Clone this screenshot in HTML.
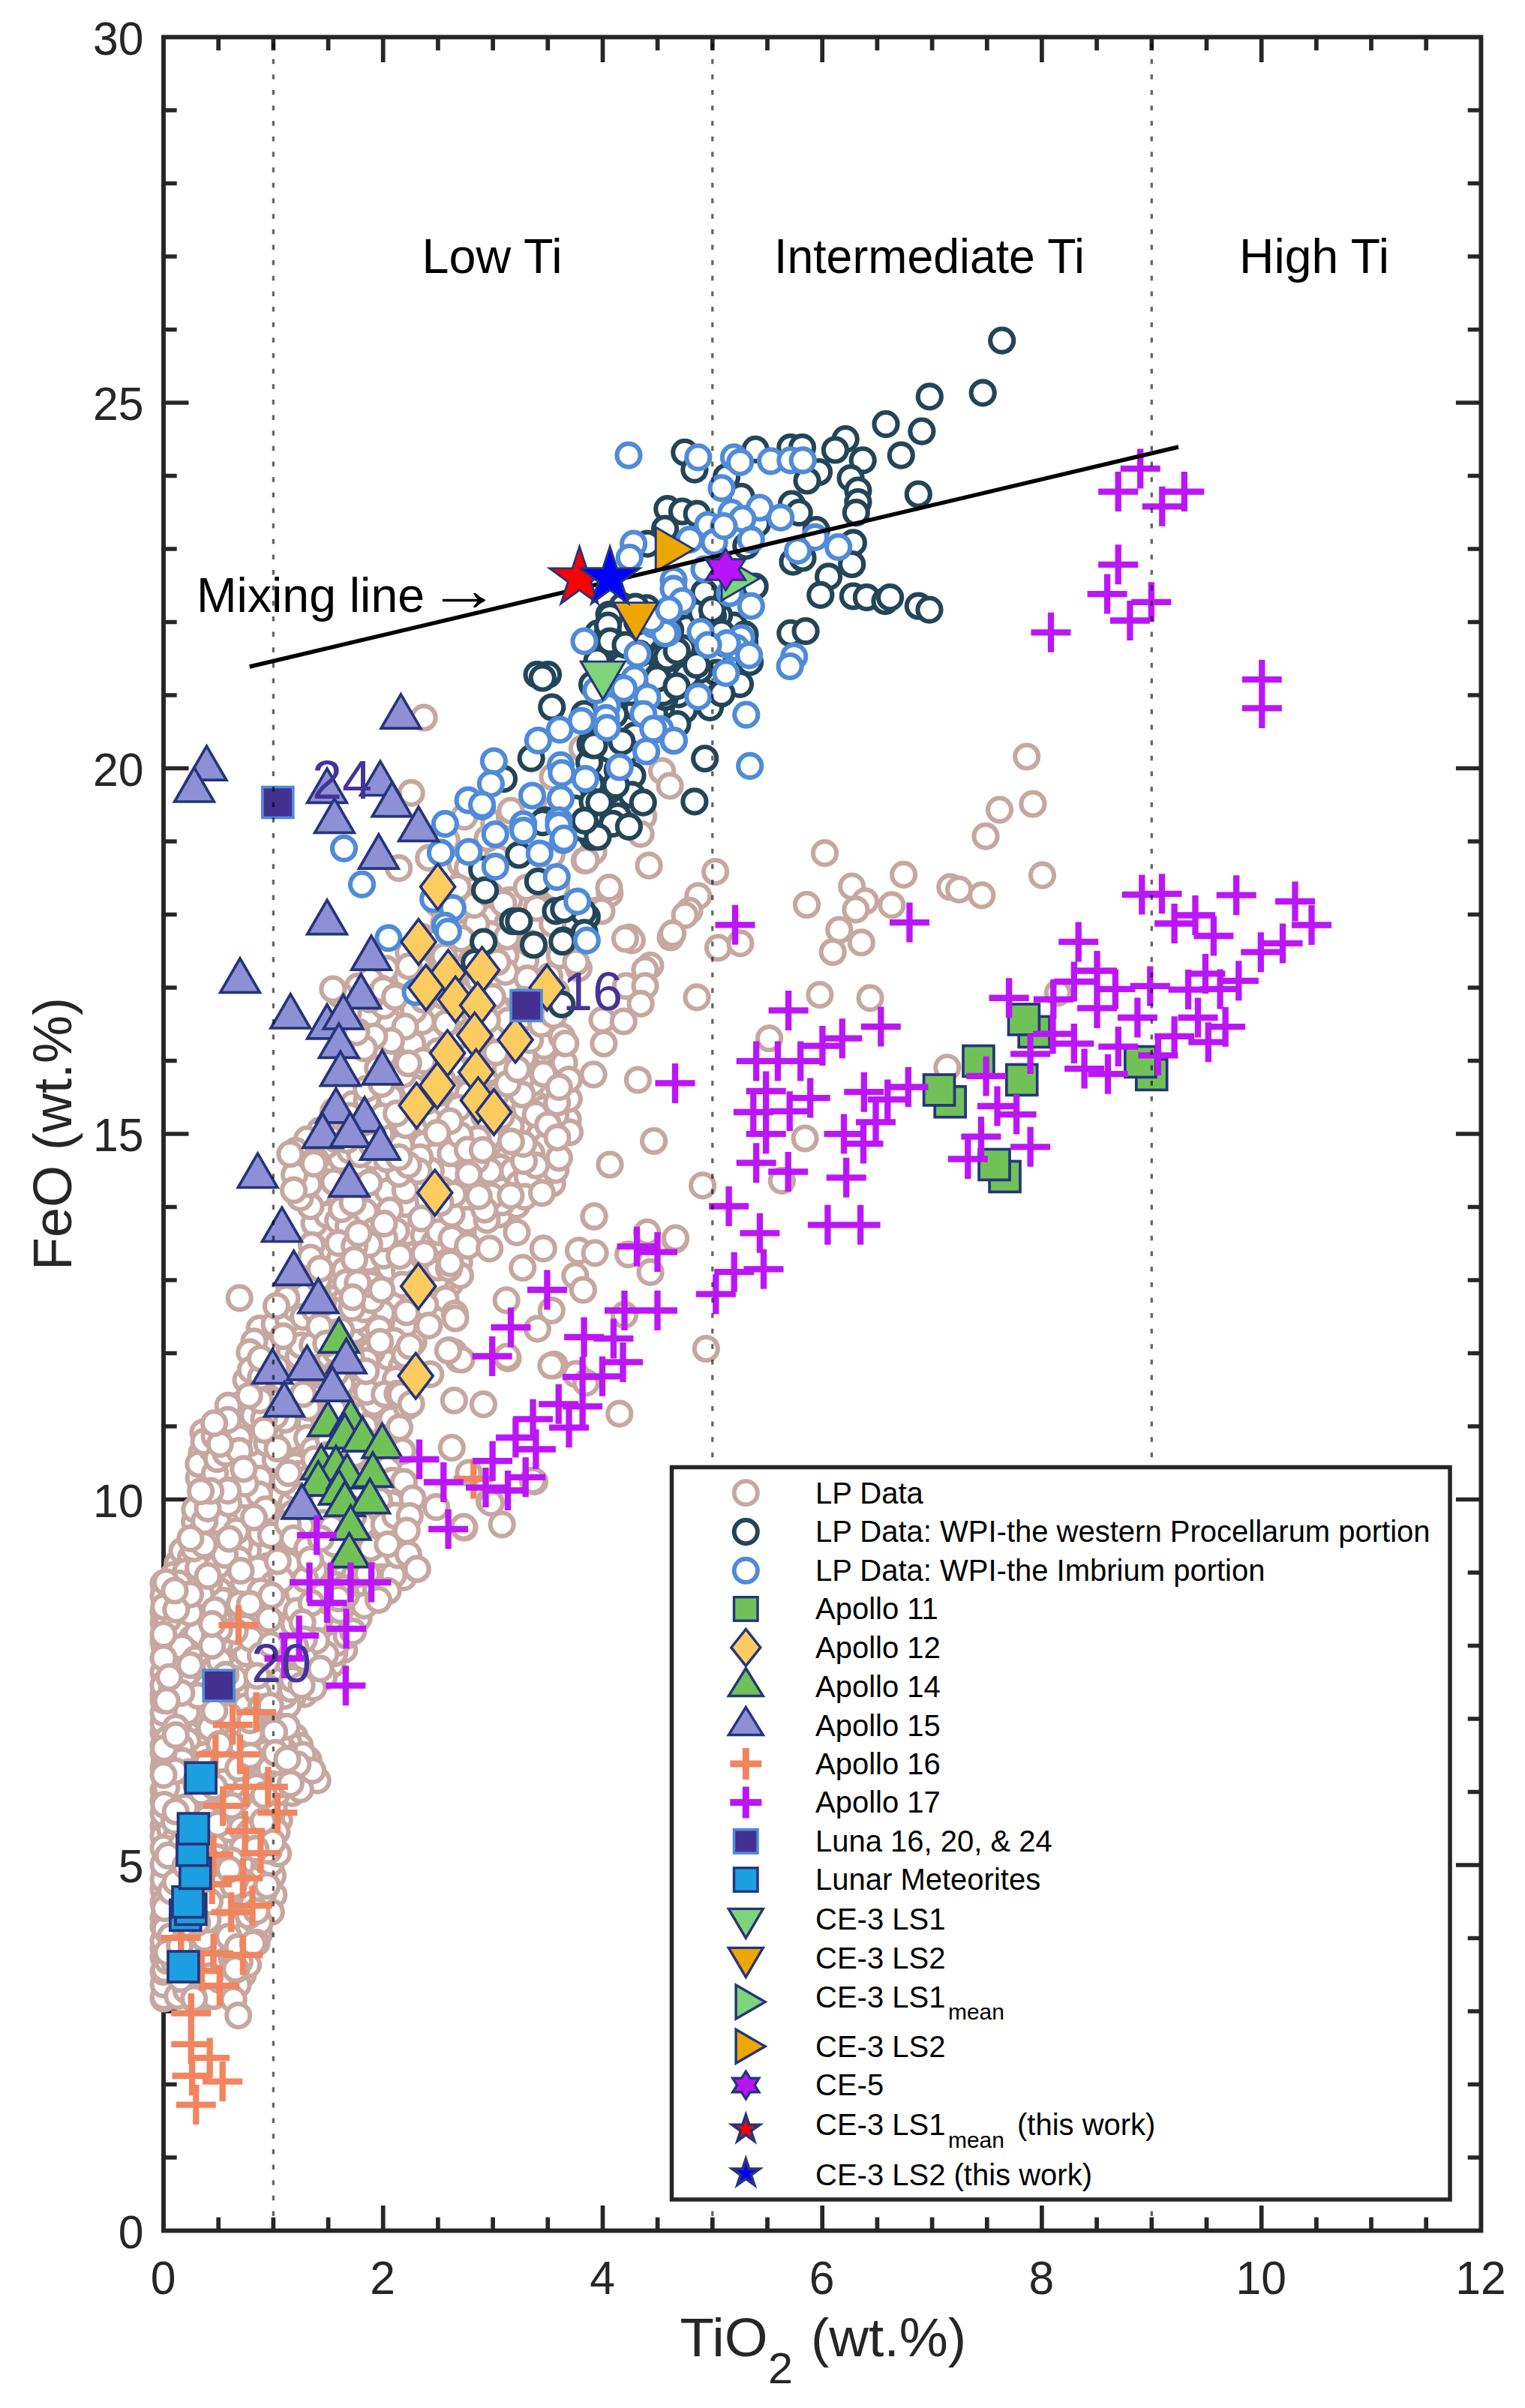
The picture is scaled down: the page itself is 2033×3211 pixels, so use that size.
<!DOCTYPE html>
<html><head><meta charset="utf-8"><title>FeO vs TiO2</title><style>html,body{margin:0;padding:0;background:#fff}svg{display:block}</style></head><body>
<svg width="2033" height="3211" viewBox="0 0 2033 3211" font-family="'Liberation Sans', sans-serif">
<rect width="2033" height="3211" fill="#fff"/>
<path d="M218.0 2877.0h17.7M1974.4 2877.0h-17.7M218.0 2779.5h17.7M1974.4 2779.5h-17.7M218.0 2682.0h17.7M1974.4 2682.0h-17.7M218.0 2584.5h17.7M1974.4 2584.5h-17.7M218.0 2487.0h33.5M1974.4 2487.0h-33.5M218.0 2389.5h17.7M1974.4 2389.5h-17.7M218.0 2292.0h17.7M1974.4 2292.0h-17.7M218.0 2194.5h17.7M1974.4 2194.5h-17.7M218.0 2097.0h17.7M1974.4 2097.0h-17.7M218.0 1999.5h33.5M1974.4 1999.5h-33.5M218.0 1902.0h17.7M1974.4 1902.0h-17.7M218.0 1804.5h17.7M1974.4 1804.5h-17.7M218.0 1707.0h17.7M1974.4 1707.0h-17.7M218.0 1609.5h17.7M1974.4 1609.5h-17.7M218.0 1512.0h33.5M1974.4 1512.0h-33.5M218.0 1414.5h17.7M1974.4 1414.5h-17.7M218.0 1317.0h17.7M1974.4 1317.0h-17.7M218.0 1219.5h17.7M1974.4 1219.5h-17.7M218.0 1122.0h17.7M1974.4 1122.0h-17.7M218.0 1024.5h33.5M1974.4 1024.5h-33.5M218.0 927.0h17.7M1974.4 927.0h-17.7M218.0 829.5h17.7M1974.4 829.5h-17.7M218.0 732.0h17.7M1974.4 732.0h-17.7M218.0 634.5h17.7M1974.4 634.5h-17.7M218.0 537.0h33.5M1974.4 537.0h-33.5M218.0 439.5h17.7M1974.4 439.5h-17.7M218.0 342.0h17.7M1974.4 342.0h-17.7M218.0 244.5h17.7M1974.4 244.5h-17.7M218.0 147.0h17.7M1974.4 147.0h-17.7M291.2 2974.5v-17.7M291.2 49.5v17.7M364.4 2974.5v-17.7M364.4 49.5v17.7M437.6 2974.5v-17.7M437.6 49.5v17.7M510.7 2974.5v-33.5M510.7 49.5v33.5M583.9 2974.5v-17.7M583.9 49.5v17.7M657.1 2974.5v-17.7M657.1 49.5v17.7M730.3 2974.5v-17.7M730.3 49.5v17.7M803.5 2974.5v-33.5M803.5 49.5v33.5M876.6 2974.5v-17.7M876.6 49.5v17.7M949.8 2974.5v-17.7M949.8 49.5v17.7M1023.0 2974.5v-17.7M1023.0 49.5v17.7M1096.2 2974.5v-33.5M1096.2 49.5v33.5M1169.4 2974.5v-17.7M1169.4 49.5v17.7M1242.6 2974.5v-17.7M1242.6 49.5v17.7M1315.8 2974.5v-17.7M1315.8 49.5v17.7M1388.9 2974.5v-33.5M1388.9 49.5v33.5M1462.1 2974.5v-17.7M1462.1 49.5v17.7M1535.3 2974.5v-17.7M1535.3 49.5v17.7M1608.5 2974.5v-17.7M1608.5 49.5v17.7M1681.7 2974.5v-33.5M1681.7 49.5v33.5M1754.9 2974.5v-17.7M1754.9 49.5v17.7M1828.0 2974.5v-17.7M1828.0 49.5v17.7M1901.2 2974.5v-17.7M1901.2 49.5v17.7" stroke="#262626" stroke-width="5.7" fill="none"/>
<rect x="218.0" y="49.5" width="1756.4" height="2925.0" fill="none" stroke="#262626" stroke-width="5.9"/>
<g font-size="63.5" fill="#262626">
<text transform="translate(191.5 2997.8) scale(0.955 1)" text-anchor="end">0</text>
<text transform="translate(191.5 2510.3) scale(0.955 1)" text-anchor="end">5</text>
<text transform="translate(191.5 2022.8) scale(0.955 1)" text-anchor="end">10</text>
<text transform="translate(191.5 1535.3) scale(0.955 1)" text-anchor="end">15</text>
<text transform="translate(191.5 1047.8) scale(0.955 1)" text-anchor="end">20</text>
<text transform="translate(191.5 560.3) scale(0.955 1)" text-anchor="end">25</text>
<text transform="translate(191.5 72.8) scale(0.955 1)" text-anchor="end">30</text>
<text transform="translate(217.5 3059.3) scale(0.955 1)" text-anchor="middle">0</text>
<text transform="translate(510.2 3059.3) scale(0.955 1)" text-anchor="middle">2</text>
<text transform="translate(803.0 3059.3) scale(0.955 1)" text-anchor="middle">4</text>
<text transform="translate(1095.7 3059.3) scale(0.955 1)" text-anchor="middle">6</text>
<text transform="translate(1388.4 3059.3) scale(0.955 1)" text-anchor="middle">8</text>
<text transform="translate(1681.2 3059.3) scale(0.955 1)" text-anchor="middle">10</text>
<text transform="translate(1973.9 3059.3) scale(0.955 1)" text-anchor="middle">12</text>
</g>
<text transform="translate(95 1512) rotate(-90)" font-size="72" fill="#262626" text-anchor="middle" textLength="364" lengthAdjust="spacingAndGlyphs">FeO (wt.%)</text>
<text x="906.5" y="3141.5" font-size="72" fill="#262626" textLength="117" lengthAdjust="spacingAndGlyphs">TiO</text><text x="1024" y="3177.8" font-size="58" fill="#262626" textLength="33" lengthAdjust="spacingAndGlyphs">2</text><text x="1081" y="3141.5" font-size="72" fill="#262626" textLength="207" lengthAdjust="spacingAndGlyphs">(wt.%)</text>
<clipPath id="ax"><rect x="218.0" y="49.5" width="1756.4" height="2925.0"/></clipPath>
<g fill="#fff" stroke="#c6a8a0" stroke-width="6.1">
<circle cx="314.2" cy="2421.0" r="15.55"/>
<circle cx="439.3" cy="1849.1" r="15.55"/>
<circle cx="345.4" cy="2292.5" r="15.55"/>
<circle cx="676.6" cy="1231.1" r="15.55"/>
<circle cx="304.5" cy="2464.7" r="15.55"/>
<circle cx="345.5" cy="2195.5" r="15.55"/>
<circle cx="440.6" cy="1557.1" r="15.55"/>
<circle cx="269.2" cy="2574.4" r="15.55"/>
<circle cx="397.3" cy="2081.7" r="15.55"/>
<circle cx="346.1" cy="1771.5" r="15.55"/>
<circle cx="218.0" cy="2387.3" r="15.55"/>
<circle cx="426.7" cy="1507.3" r="15.55"/>
<circle cx="555.9" cy="1496.2" r="15.55"/>
<circle cx="286.5" cy="2548.3" r="15.55"/>
<circle cx="477.5" cy="1315.3" r="15.55"/>
<circle cx="366.1" cy="1765.6" r="15.55"/>
<circle cx="258.9" cy="2231.3" r="15.55"/>
<circle cx="223.1" cy="2485.2" r="15.55"/>
<circle cx="224.8" cy="2224.7" r="15.55"/>
<circle cx="500.2" cy="2026.0" r="15.55"/>
<circle cx="453.8" cy="1915.9" r="15.55"/>
<circle cx="405.3" cy="2376.9" r="15.55"/>
<circle cx="227.1" cy="2650.3" r="15.55"/>
<circle cx="279.0" cy="2364.7" r="15.55"/>
<circle cx="364.4" cy="1798.1" r="15.55"/>
<circle cx="715.3" cy="1461.8" r="15.55"/>
<circle cx="572.1" cy="1385.6" r="15.55"/>
<circle cx="516.8" cy="1989.4" r="15.55"/>
<circle cx="271.3" cy="2158.9" r="15.55"/>
<circle cx="287.8" cy="2042.6" r="15.55"/>
<circle cx="684.2" cy="1344.3" r="15.55"/>
<circle cx="546.1" cy="1517.7" r="15.55"/>
<circle cx="218.0" cy="2163.7" r="15.55"/>
<circle cx="405.3" cy="1774.8" r="15.55"/>
<circle cx="600.4" cy="1711.5" r="15.55"/>
<circle cx="256.5" cy="2349.8" r="15.55"/>
<circle cx="228.8" cy="2493.4" r="15.55"/>
<circle cx="299.0" cy="2359.5" r="15.55"/>
<circle cx="337.3" cy="2220.7" r="15.55"/>
<circle cx="412.2" cy="2049.5" r="15.55"/>
<circle cx="449.8" cy="2169.5" r="15.55"/>
<circle cx="335.0" cy="1966.0" r="15.55"/>
<circle cx="219.5" cy="2512.2" r="15.55"/>
<circle cx="316.0" cy="2270.8" r="15.55"/>
<circle cx="660.0" cy="1504.8" r="15.55"/>
<circle cx="757.2" cy="1493.0" r="15.55"/>
<circle cx="341.7" cy="2487.6" r="15.55"/>
<circle cx="523.5" cy="1718.6" r="15.55"/>
<circle cx="237.0" cy="2486.8" r="15.55"/>
<circle cx="403.0" cy="1841.4" r="15.55"/>
<circle cx="256.2" cy="2588.6" r="15.55"/>
<circle cx="330.6" cy="2473.4" r="15.55"/>
<circle cx="218.0" cy="2434.9" r="15.55"/>
<circle cx="563.0" cy="1767.4" r="15.55"/>
<circle cx="531.0" cy="1658.3" r="15.55"/>
<circle cx="458.7" cy="2199.9" r="15.55"/>
<circle cx="362.2" cy="1987.9" r="15.55"/>
<circle cx="524.9" cy="1736.9" r="15.55"/>
<circle cx="275.2" cy="2201.8" r="15.55"/>
<circle cx="275.8" cy="2261.6" r="15.55"/>
<circle cx="276.2" cy="2518.0" r="15.55"/>
<circle cx="218.0" cy="2609.6" r="15.55"/>
<circle cx="329.8" cy="2368.2" r="15.55"/>
<circle cx="432.8" cy="1659.6" r="15.55"/>
<circle cx="253.4" cy="2480.2" r="15.55"/>
<circle cx="363.2" cy="2225.9" r="15.55"/>
<circle cx="579.7" cy="1426.8" r="15.55"/>
<circle cx="338.9" cy="1788.8" r="15.55"/>
<circle cx="373.9" cy="2206.6" r="15.55"/>
<circle cx="286.9" cy="2486.3" r="15.55"/>
<circle cx="449.9" cy="1724.5" r="15.55"/>
<circle cx="439.7" cy="2097.9" r="15.55"/>
<circle cx="410.2" cy="2122.3" r="15.55"/>
<circle cx="303.6" cy="2267.7" r="15.55"/>
<circle cx="313.2" cy="2366.7" r="15.55"/>
<circle cx="236.8" cy="2084.9" r="15.55"/>
<circle cx="312.9" cy="2155.4" r="15.55"/>
<circle cx="466.8" cy="1951.3" r="15.55"/>
<circle cx="364.6" cy="1910.3" r="15.55"/>
<circle cx="516.8" cy="1530.1" r="15.55"/>
<circle cx="400.3" cy="1711.0" r="15.55"/>
<circle cx="505.4" cy="1834.2" r="15.55"/>
<circle cx="224.8" cy="2308.8" r="15.55"/>
<circle cx="363.5" cy="2501.2" r="15.55"/>
<circle cx="426.6" cy="2170.5" r="15.55"/>
<circle cx="390.0" cy="2132.9" r="15.55"/>
<circle cx="290.7" cy="2497.7" r="15.55"/>
<circle cx="374.5" cy="2367.5" r="15.55"/>
<circle cx="432.0" cy="1826.3" r="15.55"/>
<circle cx="359.2" cy="2537.7" r="15.55"/>
<circle cx="502.0" cy="1615.3" r="15.55"/>
<circle cx="368.7" cy="2154.6" r="15.55"/>
<circle cx="226.2" cy="2293.9" r="15.55"/>
<circle cx="218.0" cy="2327.9" r="15.55"/>
<circle cx="591.2" cy="1549.3" r="15.55"/>
<circle cx="341.1" cy="1934.2" r="15.55"/>
<circle cx="366.2" cy="2170.6" r="15.55"/>
<circle cx="328.1" cy="1840.3" r="15.55"/>
<circle cx="290.8" cy="2233.4" r="15.55"/>
<circle cx="369.9" cy="2348.6" r="15.55"/>
<circle cx="424.8" cy="1864.0" r="15.55"/>
<circle cx="363.0" cy="1964.8" r="15.55"/>
<circle cx="607.9" cy="1437.8" r="15.55"/>
<circle cx="265.2" cy="1970.7" r="15.55"/>
<circle cx="359.3" cy="2102.7" r="15.55"/>
<circle cx="385.3" cy="1713.8" r="15.55"/>
<circle cx="252.2" cy="2623.6" r="15.55"/>
<circle cx="490.4" cy="2047.0" r="15.55"/>
<circle cx="458.8" cy="2035.3" r="15.55"/>
<circle cx="281.9" cy="2609.0" r="15.55"/>
<circle cx="415.4" cy="2196.3" r="15.55"/>
<circle cx="405.9" cy="2259.2" r="15.55"/>
<circle cx="319.6" cy="1873.4" r="15.55"/>
<circle cx="236.0" cy="2277.8" r="15.55"/>
<circle cx="593.6" cy="1309.1" r="15.55"/>
<circle cx="322.2" cy="2287.2" r="15.55"/>
<circle cx="389.8" cy="2337.9" r="15.55"/>
<circle cx="288.0" cy="2102.1" r="15.55"/>
<circle cx="607.3" cy="1553.3" r="15.55"/>
<circle cx="489.5" cy="2019.4" r="15.55"/>
<circle cx="245.8" cy="2267.1" r="15.55"/>
<circle cx="219.4" cy="2498.8" r="15.55"/>
<circle cx="361.3" cy="2065.0" r="15.55"/>
<circle cx="266.8" cy="2407.8" r="15.55"/>
<circle cx="269.0" cy="1937.9" r="15.55"/>
<circle cx="409.3" cy="1519.3" r="15.55"/>
<circle cx="517.7" cy="1809.5" r="15.55"/>
<circle cx="520.8" cy="2109.4" r="15.55"/>
<circle cx="429.6" cy="1674.6" r="15.55"/>
<circle cx="320.8" cy="2255.4" r="15.55"/>
<circle cx="383.6" cy="2144.0" r="15.55"/>
<circle cx="402.8" cy="2201.1" r="15.55"/>
<circle cx="351.2" cy="2111.0" r="15.55"/>
<circle cx="341.1" cy="2003.7" r="15.55"/>
<circle cx="269.1" cy="2665.8" r="15.55"/>
<circle cx="443.1" cy="2219.3" r="15.55"/>
<circle cx="681.5" cy="1469.2" r="15.55"/>
<circle cx="449.4" cy="1596.1" r="15.55"/>
<circle cx="668.1" cy="1580.0" r="15.55"/>
<circle cx="257.5" cy="2397.8" r="15.55"/>
<circle cx="580.1" cy="1349.1" r="15.55"/>
<circle cx="548.7" cy="1645.1" r="15.55"/>
<circle cx="242.3" cy="2627.5" r="15.55"/>
<circle cx="411.6" cy="1985.4" r="15.55"/>
<circle cx="345.7" cy="2577.9" r="15.55"/>
<circle cx="306.2" cy="1907.1" r="15.55"/>
<circle cx="551.2" cy="1789.5" r="15.55"/>
<circle cx="352.5" cy="2495.7" r="15.55"/>
<circle cx="349.8" cy="2441.1" r="15.55"/>
<circle cx="218.0" cy="2665.0" r="15.55"/>
<circle cx="512.1" cy="1407.6" r="15.55"/>
<circle cx="436.4" cy="1973.3" r="15.55"/>
<circle cx="610.2" cy="1214.2" r="15.55"/>
<circle cx="535.6" cy="1822.3" r="15.55"/>
<circle cx="659.9" cy="1535.1" r="15.55"/>
<circle cx="501.1" cy="1947.3" r="15.55"/>
<circle cx="496.4" cy="1892.0" r="15.55"/>
<circle cx="422.9" cy="2117.8" r="15.55"/>
<circle cx="322.1" cy="2337.1" r="15.55"/>
<circle cx="611.6" cy="1572.1" r="15.55"/>
<circle cx="358.3" cy="2179.7" r="15.55"/>
<circle cx="413.3" cy="1956.5" r="15.55"/>
<circle cx="482.1" cy="1789.9" r="15.55"/>
<circle cx="484.7" cy="1483.8" r="15.55"/>
<circle cx="502.7" cy="2050.8" r="15.55"/>
<circle cx="723.6" cy="1280.7" r="15.55"/>
<circle cx="736.2" cy="1578.2" r="15.55"/>
<circle cx="218.0" cy="2401.4" r="15.55"/>
<circle cx="225.3" cy="2279.6" r="15.55"/>
<circle cx="306.6" cy="2335.3" r="15.55"/>
<circle cx="562.6" cy="1249.0" r="15.55"/>
<circle cx="411.2" cy="2346.9" r="15.55"/>
<circle cx="758.3" cy="1465.3" r="15.55"/>
<circle cx="218.0" cy="2229.9" r="15.55"/>
<circle cx="231.9" cy="2631.2" r="15.55"/>
<circle cx="506.2" cy="1473.1" r="15.55"/>
<circle cx="244.8" cy="2531.9" r="15.55"/>
<circle cx="276.0" cy="2501.0" r="15.55"/>
<circle cx="371.1" cy="2188.3" r="15.55"/>
<circle cx="438.4" cy="2179.4" r="15.55"/>
<circle cx="246.3" cy="2307.1" r="15.55"/>
<circle cx="741.3" cy="1323.1" r="15.55"/>
<circle cx="301.5" cy="2415.5" r="15.55"/>
<circle cx="243.1" cy="2068.0" r="15.55"/>
<circle cx="331.7" cy="2043.0" r="15.55"/>
<circle cx="281.5" cy="2128.1" r="15.55"/>
<circle cx="426.1" cy="1645.9" r="15.55"/>
<circle cx="688.8" cy="1381.7" r="15.55"/>
<circle cx="332.7" cy="2087.2" r="15.55"/>
<circle cx="327.3" cy="1946.3" r="15.55"/>
<circle cx="325.3" cy="2547.0" r="15.55"/>
<circle cx="359.5" cy="2139.7" r="15.55"/>
<circle cx="373.7" cy="2061.9" r="15.55"/>
<circle cx="489.7" cy="2112.5" r="15.55"/>
<circle cx="494.4" cy="1696.7" r="15.55"/>
<circle cx="402.5" cy="2138.7" r="15.55"/>
<circle cx="308.8" cy="2030.0" r="15.55"/>
<circle cx="332.9" cy="1803.2" r="15.55"/>
<circle cx="225.0" cy="2533.9" r="15.55"/>
<circle cx="335.3" cy="2117.9" r="15.55"/>
<circle cx="497.5" cy="1556.2" r="15.55"/>
<circle cx="340.2" cy="2521.9" r="15.55"/>
<circle cx="529.0" cy="2040.8" r="15.55"/>
<circle cx="725.5" cy="1395.1" r="15.55"/>
<circle cx="267.9" cy="2358.1" r="15.55"/>
<circle cx="301.9" cy="2098.6" r="15.55"/>
<circle cx="569.8" cy="1714.6" r="15.55"/>
<circle cx="539.1" cy="2089.3" r="15.55"/>
<circle cx="276.2" cy="2175.6" r="15.55"/>
<circle cx="259.7" cy="2606.8" r="15.55"/>
<circle cx="241.1" cy="2475.2" r="15.55"/>
<circle cx="251.1" cy="2296.5" r="15.55"/>
<circle cx="310.7" cy="2125.6" r="15.55"/>
<circle cx="461.8" cy="1559.1" r="15.55"/>
<circle cx="393.9" cy="1534.6" r="15.55"/>
<circle cx="454.7" cy="2081.6" r="15.55"/>
<circle cx="344.0" cy="1951.8" r="15.55"/>
<circle cx="316.2" cy="2567.9" r="15.55"/>
<circle cx="429.2" cy="2077.1" r="15.55"/>
<circle cx="360.1" cy="2297.9" r="15.55"/>
<circle cx="474.1" cy="1866.8" r="15.55"/>
<circle cx="279.7" cy="2402.0" r="15.55"/>
<circle cx="448.5" cy="1497.9" r="15.55"/>
<circle cx="235.9" cy="2574.1" r="15.55"/>
<circle cx="470.3" cy="1472.3" r="15.55"/>
<circle cx="251.9" cy="2253.8" r="15.55"/>
<circle cx="300.7" cy="2523.0" r="15.55"/>
<circle cx="393.0" cy="2316.0" r="15.55"/>
<circle cx="332.5" cy="2425.1" r="15.55"/>
<circle cx="266.1" cy="2450.1" r="15.55"/>
<circle cx="253.4" cy="2139.1" r="15.55"/>
<circle cx="453.1" cy="1326.5" r="15.55"/>
<circle cx="305.0" cy="2112.1" r="15.55"/>
<circle cx="476.1" cy="2041.6" r="15.55"/>
<circle cx="326.1" cy="2586.8" r="15.55"/>
<circle cx="346.1" cy="1971.6" r="15.55"/>
<circle cx="220.9" cy="2449.1" r="15.55"/>
<circle cx="337.6" cy="1908.8" r="15.55"/>
<circle cx="346.8" cy="2407.9" r="15.55"/>
<circle cx="453.2" cy="2159.3" r="15.55"/>
<circle cx="375.4" cy="2312.2" r="15.55"/>
<circle cx="714.5" cy="1322.6" r="15.55"/>
<circle cx="488.6" cy="1498.9" r="15.55"/>
<circle cx="489.1" cy="1466.7" r="15.55"/>
<circle cx="721.7" cy="1570.8" r="15.55"/>
<circle cx="706.3" cy="1426.9" r="15.55"/>
<circle cx="265.2" cy="2487.8" r="15.55"/>
<circle cx="665.8" cy="1619.5" r="15.55"/>
<circle cx="293.8" cy="2585.2" r="15.55"/>
<circle cx="511.5" cy="2071.0" r="15.55"/>
<circle cx="326.1" cy="2526.0" r="15.55"/>
<circle cx="316.1" cy="2297.1" r="15.55"/>
<circle cx="218.0" cy="2310.7" r="15.55"/>
<circle cx="371.4" cy="1998.3" r="15.55"/>
<circle cx="389.5" cy="2391.2" r="15.55"/>
<circle cx="346.9" cy="2475.7" r="15.55"/>
<circle cx="582.2" cy="1705.1" r="15.55"/>
<circle cx="245.3" cy="2399.1" r="15.55"/>
<circle cx="238.4" cy="2294.0" r="15.55"/>
<circle cx="232.1" cy="2544.7" r="15.55"/>
<circle cx="697.8" cy="1408.7" r="15.55"/>
<circle cx="653.5" cy="1245.7" r="15.55"/>
<circle cx="327.7" cy="2014.9" r="15.55"/>
<circle cx="315.9" cy="2470.4" r="15.55"/>
<circle cx="583.6" cy="1205.0" r="15.55"/>
<circle cx="218.6" cy="2245.3" r="15.55"/>
<circle cx="264.9" cy="1952.2" r="15.55"/>
<circle cx="506.3" cy="1972.8" r="15.55"/>
<circle cx="259.6" cy="2029.2" r="15.55"/>
<circle cx="397.0" cy="1933.1" r="15.55"/>
<circle cx="287.7" cy="2651.8" r="15.55"/>
<circle cx="265.2" cy="2533.5" r="15.55"/>
<circle cx="314.2" cy="2531.4" r="15.55"/>
<circle cx="562.9" cy="1362.2" r="15.55"/>
<circle cx="299.0" cy="2146.1" r="15.55"/>
<circle cx="523.3" cy="2083.8" r="15.55"/>
<circle cx="486.3" cy="1934.4" r="15.55"/>
<circle cx="584.2" cy="1401.5" r="15.55"/>
<circle cx="289.9" cy="2008.0" r="15.55"/>
<circle cx="258.0" cy="2165.5" r="15.55"/>
<circle cx="255.3" cy="2332.9" r="15.55"/>
<circle cx="440.1" cy="1640.5" r="15.55"/>
<circle cx="513.8" cy="2045.2" r="15.55"/>
<circle cx="268.2" cy="2305.3" r="15.55"/>
<circle cx="273.8" cy="2318.5" r="15.55"/>
<circle cx="304.0" cy="2654.9" r="15.55"/>
<circle cx="377.8" cy="2159.8" r="15.55"/>
<circle cx="454.5" cy="1544.3" r="15.55"/>
<circle cx="346.0" cy="2246.0" r="15.55"/>
<circle cx="514.8" cy="1291.8" r="15.55"/>
<circle cx="327.6" cy="1993.5" r="15.55"/>
<circle cx="222.2" cy="2422.6" r="15.55"/>
<circle cx="218.4" cy="2662.4" r="15.55"/>
<circle cx="305.9" cy="2164.4" r="15.55"/>
<circle cx="419.1" cy="1631.5" r="15.55"/>
<circle cx="356.3" cy="2031.5" r="15.55"/>
<circle cx="507.7" cy="1317.5" r="15.55"/>
<circle cx="306.0" cy="2215.6" r="15.55"/>
<circle cx="272.3" cy="2597.6" r="15.55"/>
<circle cx="323.8" cy="2633.2" r="15.55"/>
<circle cx="361.3" cy="2484.7" r="15.55"/>
<circle cx="633.6" cy="1440.3" r="15.55"/>
<circle cx="488.6" cy="1451.8" r="15.55"/>
<circle cx="424.8" cy="1918.7" r="15.55"/>
<circle cx="411.4" cy="1695.9" r="15.55"/>
<circle cx="620.2" cy="1594.3" r="15.55"/>
<circle cx="400.0" cy="2327.9" r="15.55"/>
<circle cx="300.6" cy="2474.0" r="15.55"/>
<circle cx="317.0" cy="2646.8" r="15.55"/>
<circle cx="525.3" cy="1907.1" r="15.55"/>
<circle cx="351.8" cy="2336.3" r="15.55"/>
<circle cx="563.4" cy="1430.8" r="15.55"/>
<circle cx="327.2" cy="2494.3" r="15.55"/>
<circle cx="333.1" cy="2240.9" r="15.55"/>
<circle cx="332.3" cy="2600.7" r="15.55"/>
<circle cx="351.9" cy="2166.8" r="15.55"/>
<circle cx="419.1" cy="2033.9" r="15.55"/>
<circle cx="300.6" cy="2304.2" r="15.55"/>
<circle cx="478.1" cy="2055.7" r="15.55"/>
<circle cx="218.0" cy="2447.9" r="15.55"/>
<circle cx="283.3" cy="2575.0" r="15.55"/>
<circle cx="404.6" cy="2362.0" r="15.55"/>
<circle cx="430.0" cy="1954.5" r="15.55"/>
<circle cx="223.1" cy="2207.7" r="15.55"/>
<circle cx="436.9" cy="1717.4" r="15.55"/>
<circle cx="565.1" cy="1647.5" r="15.55"/>
<circle cx="259.9" cy="2012.8" r="15.55"/>
<circle cx="495.3" cy="1802.9" r="15.55"/>
<circle cx="218.0" cy="2149.6" r="15.55"/>
<circle cx="347.0" cy="2069.7" r="15.55"/>
<circle cx="261.8" cy="2323.2" r="15.55"/>
<circle cx="548.8" cy="1673.8" r="15.55"/>
<circle cx="520.5" cy="1768.0" r="15.55"/>
<circle cx="614.2" cy="1152.0" r="15.55"/>
<circle cx="395.2" cy="1582.7" r="15.55"/>
<circle cx="488.7" cy="1814.9" r="15.55"/>
<circle cx="680.0" cy="1318.2" r="15.55"/>
<circle cx="700.6" cy="1280.7" r="15.55"/>
<circle cx="333.9" cy="2575.1" r="15.55"/>
<circle cx="389.9" cy="2182.6" r="15.55"/>
<circle cx="385.0" cy="2325.0" r="15.55"/>
<circle cx="233.6" cy="2467.7" r="15.55"/>
<circle cx="637.5" cy="1409.3" r="15.55"/>
<circle cx="620.8" cy="1611.8" r="15.55"/>
<circle cx="371.2" cy="2021.8" r="15.55"/>
<circle cx="542.4" cy="1412.8" r="15.55"/>
<circle cx="567.9" cy="1582.7" r="15.55"/>
<circle cx="557.4" cy="1604.2" r="15.55"/>
<circle cx="254.4" cy="2076.9" r="15.55"/>
<circle cx="384.5" cy="1759.8" r="15.55"/>
<circle cx="330.3" cy="2067.8" r="15.55"/>
<circle cx="330.6" cy="2620.0" r="15.55"/>
<circle cx="465.9" cy="1488.0" r="15.55"/>
<circle cx="219.1" cy="2122.6" r="15.55"/>
<circle cx="496.1" cy="1961.5" r="15.55"/>
<circle cx="428.8" cy="1574.3" r="15.55"/>
<circle cx="468.3" cy="2155.6" r="15.55"/>
<circle cx="403.8" cy="2340.1" r="15.55"/>
<circle cx="237.1" cy="2230.2" r="15.55"/>
<circle cx="494.7" cy="1597.6" r="15.55"/>
<circle cx="552.7" cy="1579.0" r="15.55"/>
<circle cx="565.3" cy="1526.0" r="15.55"/>
<circle cx="263.2" cy="2244.3" r="15.55"/>
<circle cx="702.5" cy="1498.2" r="15.55"/>
<circle cx="436.5" cy="1620.4" r="15.55"/>
<circle cx="510.3" cy="1569.3" r="15.55"/>
<circle cx="597.1" cy="1632.6" r="15.55"/>
<circle cx="295.1" cy="2275.9" r="15.55"/>
<circle cx="704.1" cy="1356.3" r="15.55"/>
<circle cx="595.9" cy="1564.3" r="15.55"/>
<circle cx="271.8" cy="2289.3" r="15.55"/>
<circle cx="445.8" cy="2204.6" r="15.55"/>
<circle cx="391.8" cy="1901.8" r="15.55"/>
<circle cx="524.8" cy="1921.9" r="15.55"/>
<circle cx="387.7" cy="2118.2" r="15.55"/>
<circle cx="570.2" cy="1313.7" r="15.55"/>
<circle cx="740.8" cy="1560.2" r="15.55"/>
<circle cx="616.7" cy="1326.3" r="15.55"/>
<circle cx="664.1" cy="1381.7" r="15.55"/>
<circle cx="564.2" cy="1698.5" r="15.55"/>
<circle cx="235.4" cy="2265.4" r="15.55"/>
<circle cx="315.7" cy="2453.5" r="15.55"/>
<circle cx="521.4" cy="1878.1" r="15.55"/>
<circle cx="538.2" cy="1458.8" r="15.55"/>
<circle cx="369.3" cy="2264.4" r="15.55"/>
<circle cx="384.3" cy="2071.2" r="15.55"/>
<circle cx="739.6" cy="1429.5" r="15.55"/>
<circle cx="291.6" cy="2159.4" r="15.55"/>
<circle cx="229.6" cy="2398.9" r="15.55"/>
<circle cx="378.7" cy="2333.9" r="15.55"/>
<circle cx="579.8" cy="1492.3" r="15.55"/>
<circle cx="419.1" cy="2013.6" r="15.55"/>
<circle cx="372.3" cy="2427.1" r="15.55"/>
<circle cx="582.9" cy="1621.6" r="15.55"/>
<circle cx="490.6" cy="1993.8" r="15.55"/>
<circle cx="313.7" cy="2203.2" r="15.55"/>
<circle cx="336.7" cy="2393.8" r="15.55"/>
<circle cx="308.9" cy="2346.0" r="15.55"/>
<circle cx="587.0" cy="1275.6" r="15.55"/>
<circle cx="392.7" cy="1880.3" r="15.55"/>
<circle cx="370.7" cy="2471.7" r="15.55"/>
<circle cx="423.3" cy="2211.0" r="15.55"/>
<circle cx="334.3" cy="1826.6" r="15.55"/>
<circle cx="230.3" cy="2192.8" r="15.55"/>
<circle cx="313.0" cy="1970.6" r="15.55"/>
<circle cx="392.9" cy="2103.2" r="15.55"/>
<circle cx="308.5" cy="1956.6" r="15.55"/>
<circle cx="360.6" cy="2401.0" r="15.55"/>
<circle cx="268.5" cy="2043.0" r="15.55"/>
<circle cx="264.9" cy="2105.2" r="15.55"/>
<circle cx="412.0" cy="1810.7" r="15.55"/>
<circle cx="345.5" cy="1992.7" r="15.55"/>
<circle cx="480.1" cy="1556.4" r="15.55"/>
<circle cx="336.9" cy="2162.0" r="15.55"/>
<circle cx="290.3" cy="2028.1" r="15.55"/>
<circle cx="346.4" cy="2351.3" r="15.55"/>
<circle cx="388.7" cy="2003.8" r="15.55"/>
<circle cx="688.7" cy="1607.4" r="15.55"/>
<circle cx="273.2" cy="2650.6" r="15.55"/>
<circle cx="484.6" cy="2032.5" r="15.55"/>
<circle cx="268.7" cy="2331.1" r="15.55"/>
<circle cx="313.4" cy="2549.2" r="15.55"/>
<circle cx="345.7" cy="2372.7" r="15.55"/>
<circle cx="362.5" cy="1843.7" r="15.55"/>
<circle cx="496.9" cy="1542.4" r="15.55"/>
<circle cx="509.7" cy="1751.1" r="15.55"/>
<circle cx="493.4" cy="2132.5" r="15.55"/>
<circle cx="242.8" cy="2554.3" r="15.55"/>
<circle cx="361.6" cy="2424.9" r="15.55"/>
<circle cx="282.3" cy="1932.5" r="15.55"/>
<circle cx="417.5" cy="2236.1" r="15.55"/>
<circle cx="323.1" cy="2193.3" r="15.55"/>
<circle cx="549.9" cy="1391.9" r="15.55"/>
<circle cx="606.5" cy="1391.8" r="15.55"/>
<circle cx="364.8" cy="2526.9" r="15.55"/>
<circle cx="441.1" cy="2144.7" r="15.55"/>
<circle cx="719.3" cy="1513.0" r="15.55"/>
<circle cx="634.9" cy="1232.1" r="15.55"/>
<circle cx="677.8" cy="1542.3" r="15.55"/>
<circle cx="264.4" cy="2499.7" r="15.55"/>
<circle cx="365.1" cy="2410.6" r="15.55"/>
<circle cx="346.1" cy="2133.4" r="15.55"/>
<circle cx="425.6" cy="2137.9" r="15.55"/>
<circle cx="470.9" cy="2021.9" r="15.55"/>
<circle cx="392.6" cy="1744.7" r="15.55"/>
<circle cx="649.1" cy="1445.7" r="15.55"/>
<circle cx="516.4" cy="1359.0" r="15.55"/>
<circle cx="664.7" cy="1348.0" r="15.55"/>
<circle cx="528.8" cy="1513.6" r="15.55"/>
<circle cx="425.2" cy="1966.0" r="15.55"/>
<circle cx="226.7" cy="2439.6" r="15.55"/>
<circle cx="529.1" cy="2059.4" r="15.55"/>
<circle cx="319.5" cy="2615.8" r="15.55"/>
<circle cx="439.3" cy="1813.7" r="15.55"/>
<circle cx="740.3" cy="1077.8" r="15.55"/>
<circle cx="462.1" cy="1895.8" r="15.55"/>
<circle cx="531.4" cy="1625.3" r="15.55"/>
<circle cx="393.4" cy="2209.1" r="15.55"/>
<circle cx="383.3" cy="1934.9" r="15.55"/>
<circle cx="274.2" cy="2187.4" r="15.55"/>
<circle cx="415.8" cy="1829.0" r="15.55"/>
<circle cx="462.7" cy="1793.0" r="15.55"/>
<circle cx="233.4" cy="2373.2" r="15.55"/>
<circle cx="472.9" cy="1774.2" r="15.55"/>
<circle cx="292.2" cy="2121.1" r="15.55"/>
<circle cx="233.2" cy="2170.7" r="15.55"/>
<circle cx="514.4" cy="1705.7" r="15.55"/>
<circle cx="370.8" cy="2275.4" r="15.55"/>
<circle cx="221.8" cy="2638.4" r="15.55"/>
<circle cx="457.1" cy="1759.0" r="15.55"/>
<circle cx="520.2" cy="1462.7" r="15.55"/>
<circle cx="389.9" cy="1917.2" r="15.55"/>
<circle cx="418.9" cy="2105.0" r="15.55"/>
<circle cx="333.9" cy="2128.3" r="15.55"/>
<circle cx="420.2" cy="2147.9" r="15.55"/>
<circle cx="218.0" cy="2519.7" r="15.55"/>
<circle cx="345.7" cy="2531.9" r="15.55"/>
<circle cx="370.5" cy="2290.4" r="15.55"/>
<circle cx="375.8" cy="2248.8" r="15.55"/>
<circle cx="375.6" cy="1854.7" r="15.55"/>
<circle cx="359.6" cy="2328.2" r="15.55"/>
<circle cx="434.9" cy="1527.3" r="15.55"/>
<circle cx="297.1" cy="2134.7" r="15.55"/>
<circle cx="233.6" cy="2452.5" r="15.55"/>
<circle cx="630.6" cy="1475.8" r="15.55"/>
<circle cx="537.9" cy="2103.3" r="15.55"/>
<circle cx="411.5" cy="2155.4" r="15.55"/>
<circle cx="242.5" cy="2243.2" r="15.55"/>
<circle cx="394.1" cy="1983.8" r="15.55"/>
<circle cx="218.0" cy="2646.1" r="15.55"/>
<circle cx="256.6" cy="2635.9" r="15.55"/>
<circle cx="752.2" cy="1417.1" r="15.55"/>
<circle cx="445.2" cy="2005.3" r="15.55"/>
<circle cx="225.3" cy="2181.3" r="15.55"/>
<circle cx="471.4" cy="1848.4" r="15.55"/>
<circle cx="517.0" cy="1588.3" r="15.55"/>
<circle cx="378.9" cy="2172.6" r="15.55"/>
<circle cx="245.6" cy="2434.1" r="15.55"/>
<circle cx="540.6" cy="1605.7" r="15.55"/>
<circle cx="369.9" cy="2390.6" r="15.55"/>
<circle cx="391.8" cy="2165.9" r="15.55"/>
<circle cx="742.4" cy="1206.1" r="15.55"/>
<circle cx="490.9" cy="1766.6" r="15.55"/>
<circle cx="716.4" cy="1182.0" r="15.55"/>
<circle cx="477.1" cy="1888.3" r="15.55"/>
<circle cx="413.4" cy="1897.8" r="15.55"/>
<circle cx="431.6" cy="2236.6" r="15.55"/>
<circle cx="503.5" cy="2082.4" r="15.55"/>
<circle cx="358.1" cy="2202.5" r="15.55"/>
<circle cx="655.9" cy="1476.9" r="15.55"/>
<circle cx="292.0" cy="2447.5" r="15.55"/>
<circle cx="534.7" cy="1527.7" r="15.55"/>
<circle cx="423.2" cy="2374.2" r="15.55"/>
<circle cx="527.6" cy="1839.4" r="15.55"/>
<circle cx="260.4" cy="2427.7" r="15.55"/>
<circle cx="265.6" cy="2626.2" r="15.55"/>
<circle cx="296.0" cy="2201.4" r="15.55"/>
<circle cx="594.1" cy="1732.2" r="15.55"/>
<circle cx="442.5" cy="1700.8" r="15.55"/>
<circle cx="319.0" cy="2059.9" r="15.55"/>
<circle cx="619.6" cy="1410.2" r="15.55"/>
<circle cx="651.8" cy="1516.1" r="15.55"/>
<circle cx="285.7" cy="2060.6" r="15.55"/>
<circle cx="231.4" cy="2100.3" r="15.55"/>
<circle cx="245.3" cy="2582.6" r="15.55"/>
<circle cx="638.6" cy="1572.1" r="15.55"/>
<circle cx="583.7" cy="1690.3" r="15.55"/>
<circle cx="242.5" cy="2211.4" r="15.55"/>
<circle cx="438.8" cy="2132.7" r="15.55"/>
<circle cx="508.6" cy="1904.2" r="15.55"/>
<circle cx="358.3" cy="2088.1" r="15.55"/>
<circle cx="390.9" cy="1828.0" r="15.55"/>
<circle cx="486.4" cy="1615.5" r="15.55"/>
<circle cx="330.2" cy="2407.9" r="15.55"/>
<circle cx="335.5" cy="2102.8" r="15.55"/>
<circle cx="415.4" cy="1660.3" r="15.55"/>
<circle cx="591.1" cy="1669.1" r="15.55"/>
<circle cx="386.1" cy="1800.6" r="15.55"/>
<circle cx="491.2" cy="1354.2" r="15.55"/>
<circle cx="292.4" cy="2340.3" r="15.55"/>
<circle cx="476.3" cy="1759.5" r="15.55"/>
<circle cx="341.9" cy="2362.0" r="15.55"/>
<circle cx="491.0" cy="1678.8" r="15.55"/>
<circle cx="390.3" cy="2262.5" r="15.55"/>
<circle cx="590.6" cy="1525.8" r="15.55"/>
<circle cx="450.6" cy="1627.8" r="15.55"/>
<circle cx="276.8" cy="2448.8" r="15.55"/>
<circle cx="361.3" cy="2549.7" r="15.55"/>
<circle cx="319.5" cy="1897.5" r="15.55"/>
<circle cx="680.0" cy="1401.0" r="15.55"/>
<circle cx="579.1" cy="1656.8" r="15.55"/>
<circle cx="218.0" cy="2259.2" r="15.55"/>
<circle cx="667.3" cy="1556.7" r="15.55"/>
<circle cx="347.1" cy="2157.3" r="15.55"/>
<circle cx="271.0" cy="1910.0" r="15.55"/>
<circle cx="304.7" cy="2005.0" r="15.55"/>
<circle cx="247.8" cy="2095.8" r="15.55"/>
<circle cx="409.5" cy="1917.6" r="15.55"/>
<circle cx="507.7" cy="1512.4" r="15.55"/>
<circle cx="298.7" cy="2620.5" r="15.55"/>
<circle cx="478.0" cy="1376.2" r="15.55"/>
<circle cx="304.2" cy="1874.4" r="15.55"/>
<circle cx="431.5" cy="1905.9" r="15.55"/>
<circle cx="390.8" cy="2364.3" r="15.55"/>
<circle cx="219.5" cy="2197.3" r="15.55"/>
<circle cx="508.7" cy="2103.2" r="15.55"/>
<circle cx="423.1" cy="1719.9" r="15.55"/>
<circle cx="463.6" cy="2065.6" r="15.55"/>
<circle cx="444.5" cy="1482.3" r="15.55"/>
<circle cx="522.1" cy="1892.4" r="15.55"/>
<circle cx="681.0" cy="1501.5" r="15.55"/>
<circle cx="505.1" cy="1772.2" r="15.55"/>
<circle cx="431.1" cy="2193.0" r="15.55"/>
<circle cx="286.5" cy="1964.5" r="15.55"/>
<circle cx="585.1" cy="1643.1" r="15.55"/>
<circle cx="332.6" cy="1924.6" r="15.55"/>
<circle cx="706.6" cy="1387.1" r="15.55"/>
<circle cx="503.0" cy="2111.2" r="15.55"/>
<circle cx="303.0" cy="2426.3" r="15.55"/>
<circle cx="445.4" cy="1901.8" r="15.55"/>
<circle cx="282.1" cy="2272.1" r="15.55"/>
<circle cx="292.9" cy="2403.7" r="15.55"/>
<circle cx="218.0" cy="2357.7" r="15.55"/>
<circle cx="232.4" cy="2134.8" r="15.55"/>
<circle cx="321.4" cy="2224.0" r="15.55"/>
<circle cx="464.6" cy="1635.5" r="15.55"/>
<circle cx="368.9" cy="2442.6" r="15.55"/>
<circle cx="725.9" cy="1478.3" r="15.55"/>
<circle cx="509.4" cy="1488.8" r="15.55"/>
<circle cx="447.6" cy="1519.1" r="15.55"/>
<circle cx="493.5" cy="1306.8" r="15.55"/>
<circle cx="285.6" cy="2525.8" r="15.55"/>
<circle cx="218.7" cy="2465.2" r="15.55"/>
<circle cx="538.8" cy="1767.8" r="15.55"/>
<circle cx="453.2" cy="1678.9" r="15.55"/>
<circle cx="245.7" cy="2182.9" r="15.55"/>
<circle cx="449.3" cy="2190.9" r="15.55"/>
<circle cx="289.9" cy="2259.0" r="15.55"/>
<circle cx="289.2" cy="2308.7" r="15.55"/>
<circle cx="551.5" cy="1347.3" r="15.55"/>
<circle cx="630.6" cy="1498.2" r="15.55"/>
<circle cx="481.0" cy="2124.0" r="15.55"/>
<circle cx="507.7" cy="2013.3" r="15.55"/>
<circle cx="383.8" cy="2273.5" r="15.55"/>
<circle cx="318.7" cy="2079.8" r="15.55"/>
<circle cx="424.6" cy="1592.7" r="15.55"/>
<circle cx="383.3" cy="2197.7" r="15.55"/>
<circle cx="511.8" cy="1917.7" r="15.55"/>
<circle cx="281.3" cy="2392.5" r="15.55"/>
<circle cx="249.4" cy="2372.7" r="15.55"/>
<circle cx="617.2" cy="1645.1" r="15.55"/>
<circle cx="437.6" cy="2115.9" r="15.55"/>
<circle cx="547.5" cy="1480.1" r="15.55"/>
<circle cx="625.5" cy="1580.6" r="15.55"/>
<circle cx="235.6" cy="2339.2" r="15.55"/>
<circle cx="759.5" cy="1509.9" r="15.55"/>
<circle cx="428.7" cy="2154.4" r="15.55"/>
<circle cx="258.4" cy="2514.2" r="15.55"/>
<circle cx="726.9" cy="1527.6" r="15.55"/>
<circle cx="450.8" cy="2020.2" r="15.55"/>
<circle cx="731.5" cy="1446.6" r="15.55"/>
<circle cx="236.8" cy="2661.7" r="15.55"/>
<circle cx="485.8" cy="1947.7" r="15.55"/>
<circle cx="605.5" cy="1458.4" r="15.55"/>
<circle cx="335.3" cy="2505.2" r="15.55"/>
<circle cx="389.5" cy="2018.6" r="15.55"/>
<circle cx="540.2" cy="1369.1" r="15.55"/>
<circle cx="512.1" cy="1341.2" r="15.55"/>
<circle cx="379.0" cy="2261.4" r="15.55"/>
<circle cx="243.4" cy="2155.5" r="15.55"/>
<circle cx="406.0" cy="1727.5" r="15.55"/>
<circle cx="466.2" cy="1534.1" r="15.55"/>
<circle cx="297.6" cy="2548.6" r="15.55"/>
<circle cx="400.4" cy="2386.2" r="15.55"/>
<circle cx="542.6" cy="1303.6" r="15.55"/>
<circle cx="292.0" cy="2392.6" r="15.55"/>
<circle cx="218.0" cy="2111.6" r="15.55"/>
<circle cx="218.0" cy="2464.3" r="15.55"/>
<circle cx="273.7" cy="2076.8" r="15.55"/>
<circle cx="627.9" cy="1282.2" r="15.55"/>
<circle cx="399.3" cy="2222.6" r="15.55"/>
<circle cx="276.6" cy="2149.0" r="15.55"/>
<circle cx="358.2" cy="2467.8" r="15.55"/>
<circle cx="416.5" cy="2360.9" r="15.55"/>
<circle cx="561.7" cy="1624.8" r="15.55"/>
<circle cx="218.0" cy="2506.5" r="15.55"/>
<circle cx="340.3" cy="2416.0" r="15.55"/>
<circle cx="349.9" cy="2318.2" r="15.55"/>
<circle cx="404.8" cy="1553.4" r="15.55"/>
<circle cx="387.7" cy="2252.3" r="15.55"/>
<circle cx="322.1" cy="2125.9" r="15.55"/>
<circle cx="327.0" cy="1978.4" r="15.55"/>
<circle cx="322.3" cy="2385.9" r="15.55"/>
<circle cx="381.9" cy="1731.0" r="15.55"/>
<circle cx="468.3" cy="1810.9" r="15.55"/>
<circle cx="328.3" cy="2350.0" r="15.55"/>
<circle cx="463.8" cy="2139.7" r="15.55"/>
<circle cx="417.8" cy="1932.9" r="15.55"/>
<circle cx="359.9" cy="2358.5" r="15.55"/>
<circle cx="588.9" cy="1586.5" r="15.55"/>
<circle cx="622.9" cy="1626.6" r="15.55"/>
<circle cx="649.0" cy="1626.9" r="15.55"/>
<circle cx="253.4" cy="2545.4" r="15.55"/>
<circle cx="287.3" cy="2355.1" r="15.55"/>
<circle cx="377.1" cy="2124.9" r="15.55"/>
<circle cx="540.8" cy="1500.4" r="15.55"/>
<circle cx="519.1" cy="1690.8" r="15.55"/>
<circle cx="325.1" cy="2110.0" r="15.55"/>
<circle cx="710.1" cy="1444.2" r="15.55"/>
<circle cx="316.3" cy="2580.8" r="15.55"/>
<circle cx="457.3" cy="2103.7" r="15.55"/>
<circle cx="496.8" cy="2122.5" r="15.55"/>
<circle cx="289.5" cy="2417.3" r="15.55"/>
<circle cx="246.4" cy="2383.6" r="15.55"/>
<circle cx="470.1" cy="1922.5" r="15.55"/>
<circle cx="455.6" cy="1612.4" r="15.55"/>
<circle cx="218.0" cy="2598.0" r="15.55"/>
<circle cx="566.9" cy="1740.0" r="15.55"/>
<circle cx="218.0" cy="2297.7" r="15.55"/>
<circle cx="272.7" cy="2028.5" r="15.55"/>
<circle cx="485.2" cy="1745.8" r="15.55"/>
<circle cx="381.5" cy="1947.7" r="15.55"/>
<circle cx="735.3" cy="1139.9" r="15.55"/>
<circle cx="246.6" cy="2171.3" r="15.55"/>
<circle cx="265.5" cy="2141.0" r="15.55"/>
<circle cx="679.1" cy="1200.4" r="15.55"/>
<circle cx="328.5" cy="2150.9" r="15.55"/>
<circle cx="301.3" cy="2257.5" r="15.55"/>
<circle cx="380.4" cy="1893.1" r="15.55"/>
<circle cx="462.1" cy="2181.4" r="15.55"/>
<circle cx="257.6" cy="2269.2" r="15.55"/>
<circle cx="261.1" cy="2196.9" r="15.55"/>
<circle cx="580.1" cy="1540.9" r="15.55"/>
<circle cx="478.0" cy="2158.0" r="15.55"/>
<circle cx="404.0" cy="2018.4" r="15.55"/>
<circle cx="343.8" cy="2092.2" r="15.55"/>
<circle cx="302.4" cy="2564.8" r="15.55"/>
<circle cx="404.6" cy="1756.1" r="15.55"/>
<circle cx="669.5" cy="1603.5" r="15.55"/>
<circle cx="291.5" cy="2604.6" r="15.55"/>
<circle cx="344.7" cy="1850.0" r="15.55"/>
<circle cx="434.2" cy="2017.3" r="15.55"/>
<circle cx="275.1" cy="2378.0" r="15.55"/>
<circle cx="602.2" cy="1618.8" r="15.55"/>
<circle cx="453.6" cy="2147.4" r="15.55"/>
<circle cx="524.1" cy="2100.3" r="15.55"/>
<circle cx="296.8" cy="2245.6" r="15.55"/>
<circle cx="377.1" cy="1839.7" r="15.55"/>
<circle cx="343.8" cy="2453.0" r="15.55"/>
<circle cx="627.7" cy="1371.8" r="15.55"/>
<circle cx="304.1" cy="2454.1" r="15.55"/>
<circle cx="218.0" cy="2557.8" r="15.55"/>
<circle cx="255.2" cy="2185.6" r="15.55"/>
<circle cx="398.2" cy="1808.2" r="15.55"/>
<circle cx="319.0" cy="1917.4" r="15.55"/>
<circle cx="658.9" cy="1098.1" r="15.55"/>
<circle cx="263.0" cy="2178.7" r="15.55"/>
<circle cx="428.7" cy="2103.4" r="15.55"/>
<circle cx="495.2" cy="1733.8" r="15.55"/>
<circle cx="498.2" cy="1983.6" r="15.55"/>
<circle cx="470.6" cy="2119.6" r="15.55"/>
<circle cx="247.1" cy="2233.8" r="15.55"/>
<circle cx="602.1" cy="1651.4" r="15.55"/>
<circle cx="524.7" cy="1939.8" r="15.55"/>
<circle cx="574.3" cy="1561.3" r="15.55"/>
<circle cx="363.5" cy="2456.6" r="15.55"/>
<circle cx="218.0" cy="2629.5" r="15.55"/>
<circle cx="683.6" cy="1561.3" r="15.55"/>
<circle cx="342.6" cy="2329.1" r="15.55"/>
<circle cx="652.9" cy="1561.6" r="15.55"/>
<circle cx="219.4" cy="2626.1" r="15.55"/>
<circle cx="239.3" cy="2607.2" r="15.55"/>
<circle cx="304.7" cy="2394.5" r="15.55"/>
<circle cx="218.0" cy="2587.8" r="15.55"/>
<circle cx="245.8" cy="2520.6" r="15.55"/>
<circle cx="448.8" cy="2113.5" r="15.55"/>
<circle cx="653.4" cy="1427.4" r="15.55"/>
<circle cx="288.1" cy="2620.2" r="15.55"/>
<circle cx="328.4" cy="2205.0" r="15.55"/>
<circle cx="604.9" cy="1592.7" r="15.55"/>
<circle cx="455.7" cy="1982.1" r="15.55"/>
<circle cx="485.7" cy="2141.2" r="15.55"/>
<circle cx="401.4" cy="1794.2" r="15.55"/>
<circle cx="250.0" cy="2321.5" r="15.55"/>
<circle cx="297.9" cy="2537.0" r="15.55"/>
<circle cx="315.0" cy="2041.8" r="15.55"/>
<circle cx="342.9" cy="2147.7" r="15.55"/>
<circle cx="749.1" cy="1382.4" r="15.55"/>
<circle cx="414.1" cy="1677.0" r="15.55"/>
<circle cx="619.0" cy="1089.1" r="15.55"/>
<circle cx="362.4" cy="2379.0" r="15.55"/>
<circle cx="512.2" cy="2032.8" r="15.55"/>
<circle cx="414.0" cy="1608.7" r="15.55"/>
<circle cx="724.5" cy="1432.0" r="15.55"/>
<circle cx="609.9" cy="1294.9" r="15.55"/>
<circle cx="366.9" cy="1888.3" r="15.55"/>
<circle cx="218.0" cy="2128.2" r="15.55"/>
<circle cx="218.0" cy="2284.1" r="15.55"/>
<circle cx="448.2" cy="1950.0" r="15.55"/>
<circle cx="638.0" cy="1307.0" r="15.55"/>
<circle cx="271.2" cy="2467.7" r="15.55"/>
<circle cx="272.1" cy="2277.4" r="15.55"/>
<circle cx="375.2" cy="2046.5" r="15.55"/>
<circle cx="223.1" cy="2319.0" r="15.55"/>
<circle cx="593.2" cy="1471.3" r="15.55"/>
<circle cx="468.7" cy="1832.5" r="15.55"/>
<circle cx="673.9" cy="1274.1" r="15.55"/>
<circle cx="492.9" cy="1332.9" r="15.55"/>
<circle cx="612.3" cy="1683.1" r="15.55"/>
<circle cx="358.7" cy="2261.2" r="15.55"/>
<circle cx="364.1" cy="2112.9" r="15.55"/>
<circle cx="280.8" cy="2437.2" r="15.55"/>
<circle cx="330.4" cy="2263.5" r="15.55"/>
<circle cx="613.4" cy="1700.9" r="15.55"/>
<circle cx="278.5" cy="2111.4" r="15.55"/>
<circle cx="511.2" cy="1674.3" r="15.55"/>
<circle cx="376.1" cy="2136.9" r="15.55"/>
<circle cx="234.4" cy="2386.7" r="15.55"/>
<circle cx="261.2" cy="2282.9" r="15.55"/>
<circle cx="476.6" cy="2081.3" r="15.55"/>
<circle cx="637.0" cy="1518.6" r="15.55"/>
<circle cx="319.5" cy="2139.0" r="15.55"/>
<circle cx="308.6" cy="2609.2" r="15.55"/>
<circle cx="471.9" cy="1908.4" r="15.55"/>
<circle cx="368.5" cy="1741.5" r="15.55"/>
<circle cx="302.0" cy="2505.7" r="15.55"/>
<circle cx="304.1" cy="2598.8" r="15.55"/>
<circle cx="268.1" cy="2612.4" r="15.55"/>
<circle cx="324.2" cy="2304.6" r="15.55"/>
<circle cx="419.8" cy="1746.7" r="15.55"/>
<circle cx="494.2" cy="2064.0" r="15.55"/>
<circle cx="384.1" cy="2085.5" r="15.55"/>
<circle cx="732.4" cy="1301.8" r="15.55"/>
<circle cx="332.1" cy="2253.4" r="15.55"/>
<circle cx="261.8" cy="2379.8" r="15.55"/>
<circle cx="564.4" cy="1414.4" r="15.55"/>
<circle cx="219.7" cy="2554.6" r="15.55"/>
<circle cx="303.7" cy="1987.9" r="15.55"/>
<circle cx="615.3" cy="1251.5" r="15.55"/>
<circle cx="372.1" cy="2323.5" r="15.55"/>
<circle cx="416.8" cy="1997.9" r="15.55"/>
<circle cx="483.2" cy="1513.1" r="15.55"/>
<circle cx="540.3" cy="1587.3" r="15.55"/>
<circle cx="293.3" cy="2514.3" r="15.55"/>
<circle cx="218.0" cy="2189.0" r="15.55"/>
<circle cx="539.4" cy="1694.3" r="15.55"/>
<circle cx="221.7" cy="2383.8" r="15.55"/>
<circle cx="501.6" cy="1925.9" r="15.55"/>
<circle cx="307.5" cy="2186.2" r="15.55"/>
<circle cx="493.3" cy="1712.6" r="15.55"/>
<circle cx="371.2" cy="2034.6" r="15.55"/>
<circle cx="218.0" cy="2568.9" r="15.55"/>
<circle cx="250.6" cy="2203.6" r="15.55"/>
<circle cx="347.3" cy="2044.6" r="15.55"/>
<circle cx="346.3" cy="2563.6" r="15.55"/>
<circle cx="632.2" cy="1206.6" r="15.55"/>
<circle cx="331.4" cy="2554.6" r="15.55"/>
<circle cx="230.3" cy="2561.1" r="15.55"/>
<circle cx="428.6" cy="2127.2" r="15.55"/>
<circle cx="218.0" cy="2537.2" r="15.55"/>
<circle cx="400.1" cy="1597.2" r="15.55"/>
<circle cx="451.6" cy="1860.8" r="15.55"/>
<circle cx="285.8" cy="2462.4" r="15.55"/>
<circle cx="361.3" cy="2047.3" r="15.55"/>
<circle cx="342.1" cy="2590.7" r="15.55"/>
<circle cx="656.4" cy="1329.3" r="15.55"/>
<circle cx="267.9" cy="2126.6" r="15.55"/>
<circle cx="600.8" cy="1538.0" r="15.55"/>
<circle cx="252.1" cy="2111.0" r="15.55"/>
<circle cx="277.0" cy="2011.6" r="15.55"/>
<circle cx="448.1" cy="1802.7" r="15.55"/>
<circle cx="521.4" cy="1388.1" r="15.55"/>
<circle cx="464.1" cy="1350.4" r="15.55"/>
<circle cx="609.3" cy="1349.7" r="15.55"/>
<circle cx="283.5" cy="2589.2" r="15.55"/>
<circle cx="272.0" cy="1922.4" r="15.55"/>
<circle cx="241.0" cy="2329.4" r="15.55"/>
<circle cx="385.1" cy="2220.3" r="15.55"/>
<circle cx="273.4" cy="2339.9" r="15.55"/>
<circle cx="264.7" cy="2090.7" r="15.55"/>
<circle cx="281.0" cy="2237.1" r="15.55"/>
<circle cx="257.1" cy="2445.4" r="15.55"/>
<circle cx="270.5" cy="2224.8" r="15.55"/>
<circle cx="258.6" cy="2666.1" r="15.55"/>
<circle cx="519.5" cy="1614.0" r="15.55"/>
<circle cx="393.7" cy="1954.4" r="15.55"/>
<circle cx="290.0" cy="2088.0" r="15.55"/>
<circle cx="559.7" cy="1543.1" r="15.55"/>
<circle cx="428.3" cy="1988.6" r="15.55"/>
<circle cx="721.6" cy="1365.3" r="15.55"/>
<circle cx="306.1" cy="2439.4" r="15.55"/>
<circle cx="692.4" cy="1578.4" r="15.55"/>
<circle cx="522.5" cy="2005.5" r="15.55"/>
<circle cx="503.7" cy="1424.5" r="15.55"/>
<circle cx="740.7" cy="1486.8" r="15.55"/>
<circle cx="624.3" cy="1457.8" r="15.55"/>
<circle cx="232.0" cy="2350.9" r="15.55"/>
<circle cx="530.4" cy="2073.9" r="15.55"/>
<circle cx="634.6" cy="1547.5" r="15.55"/>
<circle cx="252.4" cy="2497.3" r="15.55"/>
<circle cx="454.8" cy="1773.9" r="15.55"/>
<circle cx="459.8" cy="2052.9" r="15.55"/>
<circle cx="258.2" cy="2064.8" r="15.55"/>
<circle cx="238.1" cy="2111.3" r="15.55"/>
<circle cx="377.5" cy="1781.9" r="15.55"/>
<circle cx="624.9" cy="1566.0" r="15.55"/>
<circle cx="330.7" cy="2320.2" r="15.55"/>
<circle cx="242.7" cy="2458.4" r="15.55"/>
<circle cx="528.1" cy="1641.6" r="15.55"/>
<circle cx="344.6" cy="2176.9" r="15.55"/>
<circle cx="321.7" cy="2485.7" r="15.55"/>
<circle cx="321.7" cy="2437.7" r="15.55"/>
<circle cx="326.4" cy="2170.0" r="15.55"/>
<circle cx="292.8" cy="2190.4" r="15.55"/>
<circle cx="337.9" cy="1887.4" r="15.55"/>
<circle cx="445.7" cy="2058.7" r="15.55"/>
<circle cx="220.2" cy="2572.4" r="15.55"/>
<circle cx="249.2" cy="2283.1" r="15.55"/>
<circle cx="313.2" cy="2238.8" r="15.55"/>
<circle cx="242.7" cy="2196.5" r="15.55"/>
<circle cx="517.1" cy="1957.2" r="15.55"/>
<circle cx="379.3" cy="1975.6" r="15.55"/>
<circle cx="516.8" cy="2059.4" r="15.55"/>
<circle cx="745.4" cy="1544.0" r="15.55"/>
<circle cx="334.2" cy="2185.2" r="15.55"/>
<circle cx="299.5" cy="2073.3" r="15.55"/>
<circle cx="411.6" cy="1579.0" r="15.55"/>
<circle cx="498.2" cy="1871.0" r="15.55"/>
<circle cx="368.9" cy="1823.8" r="15.55"/>
<circle cx="640.8" cy="1387.0" r="15.55"/>
<circle cx="272.5" cy="2584.6" r="15.55"/>
<circle cx="258.0" cy="2462.9" r="15.55"/>
<circle cx="332.0" cy="2444.2" r="15.55"/>
<circle cx="346.2" cy="2307.8" r="15.55"/>
<circle cx="498.6" cy="1641.2" r="15.55"/>
<circle cx="429.7" cy="2002.3" r="15.55"/>
<circle cx="272.0" cy="2059.8" r="15.55"/>
<circle cx="265.5" cy="2546.0" r="15.55"/>
<circle cx="621.9" cy="1428.1" r="15.55"/>
<circle cx="673.8" cy="1296.2" r="15.55"/>
<circle cx="430.5" cy="2030.7" r="15.55"/>
<circle cx="487.0" cy="1902.2" r="15.55"/>
<circle cx="451.3" cy="1657.7" r="15.55"/>
<circle cx="517.2" cy="2121.5" r="15.55"/>
<circle cx="746.2" cy="1274.0" r="15.55"/>
<circle cx="712.0" cy="1235.2" r="15.55"/>
<circle cx="249.3" cy="2605.7" r="15.55"/>
<circle cx="300.1" cy="2315.0" r="15.55"/>
<circle cx="286.1" cy="1915.2" r="15.55"/>
<circle cx="335.8" cy="2539.8" r="15.55"/>
<circle cx="275.9" cy="2248.5" r="15.55"/>
<circle cx="489.0" cy="1855.9" r="15.55"/>
<circle cx="260.5" cy="2212.3" r="15.55"/>
<circle cx="459.6" cy="1693.9" r="15.55"/>
<circle cx="317.6" cy="2398.4" r="15.55"/>
<circle cx="417.9" cy="2250.5" r="15.55"/>
<circle cx="303.9" cy="1893.3" r="15.55"/>
<circle cx="325.2" cy="2510.6" r="15.55"/>
<circle cx="302.0" cy="2635.4" r="15.55"/>
<circle cx="347.8" cy="1836.3" r="15.55"/>
<circle cx="651.3" cy="1268.7" r="15.55"/>
<circle cx="471.2" cy="1581.2" r="15.55"/>
<circle cx="277.2" cy="2101.6" r="15.55"/>
<circle cx="218.0" cy="2267.4" r="15.55"/>
<circle cx="347.5" cy="2122.0" r="15.55"/>
<circle cx="660.7" cy="1460.5" r="15.55"/>
<circle cx="354.3" cy="2012.6" r="15.55"/>
<circle cx="375.3" cy="2230.5" r="15.55"/>
<circle cx="276.8" cy="2350.4" r="15.55"/>
<circle cx="223.6" cy="2160.2" r="15.55"/>
<circle cx="284.7" cy="2662.0" r="15.55"/>
<circle cx="565.5" cy="1671.7" r="15.55"/>
<circle cx="442.4" cy="1984.6" r="15.55"/>
<circle cx="703.1" cy="1304.7" r="15.55"/>
<circle cx="645.5" cy="1487.9" r="15.55"/>
<circle cx="677.5" cy="1361.0" r="15.55"/>
<circle cx="455.5" cy="1845.2" r="15.55"/>
<circle cx="397.8" cy="2124.1" r="15.55"/>
<circle cx="364.0" cy="2239.4" r="15.55"/>
<circle cx="408.2" cy="2175.2" r="15.55"/>
<circle cx="441.5" cy="2036.7" r="15.55"/>
<circle cx="219.5" cy="2544.7" r="15.55"/>
<circle cx="592.1" cy="1328.6" r="15.55"/>
<circle cx="571.5" cy="1449.0" r="15.55"/>
<circle cx="549.9" cy="1726.1" r="15.55"/>
<circle cx="438.4" cy="1919.4" r="15.55"/>
<circle cx="352.0" cy="1892.0" r="15.55"/>
<circle cx="644.4" cy="1463.0" r="15.55"/>
<circle cx="470.1" cy="1603.7" r="15.55"/>
<circle cx="512.7" cy="1859.2" r="15.55"/>
<circle cx="355.9" cy="2215.6" r="15.55"/>
<circle cx="532.8" cy="1674.9" r="15.55"/>
<circle cx="276.9" cy="2559.8" r="15.55"/>
<circle cx="311.2" cy="2380.6" r="15.55"/>
<circle cx="414.8" cy="2221.9" r="15.55"/>
<circle cx="457.3" cy="2000.1" r="15.55"/>
<circle cx="327.7" cy="2275.3" r="15.55"/>
<circle cx="480.1" cy="1539.3" r="15.55"/>
<circle cx="402.1" cy="2034.6" r="15.55"/>
<circle cx="396.8" cy="2352.8" r="15.55"/>
<circle cx="286.5" cy="2147.0" r="15.55"/>
<circle cx="351.5" cy="2523.3" r="15.55"/>
<circle cx="424.6" cy="1705.9" r="15.55"/>
<circle cx="298.6" cy="2348.5" r="15.55"/>
<circle cx="553.9" cy="1710.6" r="15.55"/>
<circle cx="289.4" cy="1945.6" r="15.55"/>
<circle cx="525.0" cy="1787.9" r="15.55"/>
<circle cx="253.2" cy="2150.9" r="15.55"/>
<circle cx="584.7" cy="1457.5" r="15.55"/>
<circle cx="357.0" cy="2250.7" r="15.55"/>
<circle cx="605.0" cy="1422.7" r="15.55"/>
<circle cx="314.1" cy="2317.2" r="15.55"/>
<circle cx="557.9" cy="1561.5" r="15.55"/>
<circle cx="218.0" cy="2486.2" r="15.55"/>
<circle cx="298.2" cy="2376.3" r="15.55"/>
<circle cx="253.9" cy="2051.4" r="15.55"/>
<circle cx="234.6" cy="2303.5" r="15.55"/>
<circle cx="223.6" cy="2615.1" r="15.55"/>
<circle cx="539.8" cy="1806.7" r="15.55"/>
<circle cx="564.5" cy="1333.0" r="15.55"/>
<circle cx="383.6" cy="2031.8" r="15.55"/>
<circle cx="297.1" cy="2294.0" r="15.55"/>
<circle cx="399.7" cy="1965.4" r="15.55"/>
<circle cx="613.2" cy="1513.6" r="15.55"/>
<circle cx="347.5" cy="2207.7" r="15.55"/>
<circle cx="531.8" cy="1565.4" r="15.55"/>
<circle cx="221.2" cy="2361.9" r="15.55"/>
<circle cx="308.9" cy="2408.1" r="15.55"/>
<circle cx="289.5" cy="2476.5" r="15.55"/>
<circle cx="460.1" cy="1880.2" r="15.55"/>
<circle cx="703.3" cy="1569.5" r="15.55"/>
<circle cx="262.9" cy="2564.0" r="15.55"/>
<circle cx="412.3" cy="1970.9" r="15.55"/>
<circle cx="218.0" cy="2418.3" r="15.55"/>
<circle cx="227.8" cy="2521.8" r="15.55"/>
<circle cx="527.5" cy="1327.5" r="15.55"/>
<circle cx="233.3" cy="2618.2" r="15.55"/>
<circle cx="253.7" cy="2220.4" r="15.55"/>
<circle cx="758.4" cy="1439.5" r="15.55"/>
<circle cx="473.1" cy="1962.8" r="15.55"/>
<circle cx="491.9" cy="1577.2" r="15.55"/>
<circle cx="382.4" cy="2302.5" r="15.55"/>
<circle cx="512.5" cy="1651.3" r="15.55"/>
<circle cx="529.9" cy="1858.3" r="15.55"/>
<circle cx="699.4" cy="1595.9" r="15.55"/>
<circle cx="227.3" cy="2582.1" r="15.55"/>
<circle cx="284.9" cy="2292.1" r="15.55"/>
<circle cx="275.4" cy="2424.0" r="15.55"/>
<circle cx="315.6" cy="2502.8" r="15.55"/>
<circle cx="515.5" cy="1545.6" r="15.55"/>
<circle cx="421.4" cy="2161.2" r="15.55"/>
<circle cx="234.2" cy="2509.7" r="15.55"/>
<circle cx="592.0" cy="1230.3" r="15.55"/>
<circle cx="416.7" cy="1793.8" r="15.55"/>
<circle cx="632.3" cy="1349.0" r="15.55"/>
<circle cx="738.1" cy="1353.7" r="15.55"/>
<circle cx="279.5" cy="2535.8" r="15.55"/>
<circle cx="528.5" cy="1484.8" r="15.55"/>
<circle cx="521.5" cy="1433.5" r="15.55"/>
<circle cx="567.6" cy="1469.2" r="15.55"/>
<circle cx="492.4" cy="1659.3" r="15.55"/>
<circle cx="305.1" cy="2287.9" r="15.55"/>
<circle cx="276.3" cy="2480.7" r="15.55"/>
<circle cx="595.3" cy="1120.6" r="15.55"/>
<circle cx="219.3" cy="2349.2" r="15.55"/>
<circle cx="365.5" cy="2309.7" r="15.55"/>
<circle cx="512.0" cy="1631.6" r="15.55"/>
<circle cx="461.2" cy="1710.4" r="15.55"/>
<circle cx="300.7" cy="1937.5" r="15.55"/>
<circle cx="390.9" cy="2051.3" r="15.55"/>
<circle cx="698.1" cy="1107.5" r="15.55"/>
<circle cx="242.9" cy="2348.2" r="15.55"/>
<circle cx="409.7" cy="2064.5" r="15.55"/>
<circle cx="317.8" cy="2357.6" r="15.55"/>
<circle cx="544.8" cy="1270.0" r="15.55"/>
<circle cx="419.4" cy="2093.8" r="15.55"/>
<circle cx="283.1" cy="2211.2" r="15.55"/>
<circle cx="699.9" cy="1478.1" r="15.55"/>
<circle cx="356.0" cy="1924.9" r="15.55"/>
<circle cx="469.3" cy="2005.8" r="15.55"/>
<circle cx="470.5" cy="2175.7" r="15.55"/>
<circle cx="445.0" cy="1576.0" r="15.55"/>
<circle cx="390.1" cy="2239.4" r="15.55"/>
<circle cx="433.8" cy="2205.6" r="15.55"/>
<circle cx="333.2" cy="2138.9" r="15.55"/>
<circle cx="356.0" cy="2514.4" r="15.55"/>
<circle cx="319.0" cy="1934.7" r="15.55"/>
<circle cx="245.3" cy="2566.9" r="15.55"/>
<circle cx="674.3" cy="1426.5" r="15.55"/>
<circle cx="523.2" cy="1974.4" r="15.55"/>
<circle cx="504.6" cy="2133.3" r="15.55"/>
<circle cx="343.8" cy="2257.7" r="15.55"/>
<circle cx="257.5" cy="2648.2" r="15.55"/>
<circle cx="246.8" cy="2409.8" r="15.55"/>
<circle cx="708.5" cy="1537.6" r="15.55"/>
<circle cx="370.7" cy="1869.0" r="15.55"/>
<circle cx="218.0" cy="2247.4" r="15.55"/>
<circle cx="454.9" cy="1738.4" r="15.55"/>
<circle cx="611.4" cy="1477.3" r="15.55"/>
<circle cx="655.1" cy="1595.0" r="15.55"/>
<circle cx="406.8" cy="2106.1" r="15.55"/>
<circle cx="541.8" cy="1749.9" r="15.55"/>
<circle cx="266.8" cy="2438.4" r="15.55"/>
<circle cx="218.8" cy="2142.7" r="15.55"/>
<circle cx="341.6" cy="2382.5" r="15.55"/>
<circle cx="395.7" cy="2148.1" r="15.55"/>
<circle cx="286.9" cy="2223.1" r="15.55"/>
<circle cx="222.9" cy="2603.3" r="15.55"/>
<circle cx="599.7" cy="1495.1" r="15.55"/>
<circle cx="280.7" cy="1988.2" r="15.55"/>
<circle cx="293.1" cy="2214.8" r="15.55"/>
<circle cx="461.6" cy="2127.3" r="15.55"/>
<circle cx="473.0" cy="2100.4" r="15.55"/>
<circle cx="232.3" cy="2428.5" r="15.55"/>
<circle cx="413.6" cy="2079.8" r="15.55"/>
<circle cx="346.8" cy="1867.4" r="15.55"/>
<circle cx="342.1" cy="2548.4" r="15.55"/>
<circle cx="300.7" cy="2233.4" r="15.55"/>
<circle cx="536.3" cy="1713.2" r="15.55"/>
<circle cx="391.3" cy="1850.1" r="15.55"/>
<circle cx="375.6" cy="2379.7" r="15.55"/>
<circle cx="350.8" cy="2428.7" r="15.55"/>
<circle cx="415.3" cy="2137.4" r="15.55"/>
<circle cx="313.0" cy="2175.0" r="15.55"/>
<circle cx="649.4" cy="1360.6" r="15.55"/>
<circle cx="421.6" cy="2187.9" r="15.55"/>
<circle cx="375.2" cy="2106.5" r="15.55"/>
<circle cx="253.5" cy="2126.2" r="15.55"/>
<circle cx="460.5" cy="1935.9" r="15.55"/>
<circle cx="219.0" cy="2406.5" r="15.55"/>
<circle cx="582.8" cy="1510.7" r="15.55"/>
<circle cx="495.7" cy="1526.1" r="15.55"/>
<circle cx="623.3" cy="1533.1" r="15.55"/>
<circle cx="405.7" cy="2211.1" r="15.55"/>
<circle cx="551.6" cy="1450.3" r="15.55"/>
<circle cx="224.1" cy="2474.3" r="15.55"/>
<circle cx="715.5" cy="1210.9" r="15.55"/>
<circle cx="427.0" cy="2225.1" r="15.55"/>
<circle cx="320.7" cy="2325.6" r="15.55"/>
<circle cx="483.5" cy="1918.8" r="15.55"/>
<circle cx="286.5" cy="2181.8" r="15.55"/>
<circle cx="402.1" cy="2247.4" r="15.55"/>
<circle cx="347.5" cy="1811.5" r="15.55"/>
<circle cx="403.1" cy="2163.4" r="15.55"/>
<circle cx="476.9" cy="1710.7" r="15.55"/>
<circle cx="736.6" cy="1231.9" r="15.55"/>
<circle cx="333.9" cy="2311.2" r="15.55"/>
<circle cx="680.9" cy="1594.4" r="15.55"/>
<circle cx="742.7" cy="1470.5" r="15.55"/>
<circle cx="311.3" cy="2514.5" r="15.55"/>
<circle cx="314.8" cy="2626.7" r="15.55"/>
<circle cx="263.6" cy="2369.2" r="15.55"/>
<circle cx="342.8" cy="2234.8" r="15.55"/>
<circle cx="594.5" cy="1364.5" r="15.55"/>
<circle cx="428.5" cy="1885.2" r="15.55"/>
<circle cx="370.3" cy="2081.8" r="15.55"/>
<circle cx="290.1" cy="2432.7" r="15.55"/>
<circle cx="323.6" cy="2463.8" r="15.55"/>
<circle cx="252.0" cy="2363.1" r="15.55"/>
<circle cx="445.4" cy="1879.2" r="15.55"/>
<circle cx="598.5" cy="1691.5" r="15.55"/>
<circle cx="694.0" cy="1440.8" r="15.55"/>
<circle cx="229.3" cy="2252.8" r="15.55"/>
<circle cx="308.9" cy="2480.9" r="15.55"/>
<circle cx="367.1" cy="2337.4" r="15.55"/>
<circle cx="436.6" cy="1940.1" r="15.55"/>
<circle cx="304.7" cy="2582.5" r="15.55"/>
<circle cx="508.7" cy="1719.9" r="15.55"/>
<circle cx="221.4" cy="2109.8" r="15.55"/>
<circle cx="292.7" cy="2640.1" r="15.55"/>
<circle cx="508.8" cy="1445.7" r="15.55"/>
<circle cx="706.1" cy="1258.0" r="15.55"/>
<circle cx="292.2" cy="2173.0" r="15.55"/>
<circle cx="305.7" cy="2492.8" r="15.55"/>
<circle cx="218.0" cy="2210.9" r="15.55"/>
<circle cx="267.6" cy="1988.7" r="15.55"/>
<circle cx="367.3" cy="1946.4" r="15.55"/>
<circle cx="280.0" cy="2635.0" r="15.55"/>
<circle cx="384.7" cy="1964.3" r="15.55"/>
<circle cx="405.4" cy="2186.1" r="15.55"/>
<circle cx="443.0" cy="1746.5" r="15.55"/>
<circle cx="427.7" cy="2051.8" r="15.55"/>
<circle cx="472.7" cy="1661.4" r="15.55"/>
<circle cx="470.3" cy="1990.9" r="15.55"/>
<circle cx="234.8" cy="2146.3" r="15.55"/>
<circle cx="332.3" cy="1861.0" r="15.55"/>
<circle cx="458.3" cy="2117.6" r="15.55"/>
<circle cx="714.2" cy="1486.3" r="15.55"/>
<circle cx="425.8" cy="1768.8" r="15.55"/>
<circle cx="247.1" cy="2488.1" r="15.55"/>
<circle cx="264.1" cy="2261.3" r="15.55"/>
<circle cx="362.0" cy="2127.6" r="15.55"/>
<circle cx="392.6" cy="1566.6" r="15.55"/>
<circle cx="340.8" cy="2465.2" r="15.55"/>
<circle cx="745.4" cy="1449.7" r="15.55"/>
<circle cx="698.1" cy="1333.1" r="15.55"/>
<circle cx="348.2" cy="2276.6" r="15.55"/>
<circle cx="486.8" cy="1971.2" r="15.55"/>
<circle cx="714.5" cy="1554.2" r="15.55"/>
<circle cx="730.7" cy="1500.0" r="15.55"/>
<circle cx="661.1" cy="1403.4" r="15.55"/>
<circle cx="544.2" cy="1553.6" r="15.55"/>
<circle cx="333.5" cy="2294.1" r="15.55"/>
<circle cx="466.9" cy="1503.8" r="15.55"/>
<circle cx="241.8" cy="2257.5" r="15.55"/>
<circle cx="393.5" cy="2195.1" r="15.55"/>
<circle cx="469.1" cy="1744.1" r="15.55"/>
<circle cx="234.2" cy="2415.5" r="15.55"/>
<circle cx="473.6" cy="1939.3" r="15.55"/>
<circle cx="222.1" cy="2267.8" r="15.55"/>
<circle cx="722.5" cy="1590.8" r="15.55"/>
<circle cx="447.5" cy="1831.0" r="15.55"/>
<circle cx="410.9" cy="1877.2" r="15.55"/>
<circle cx="404.1" cy="1859.1" r="15.55"/>
<circle cx="268.8" cy="2389.5" r="15.55"/>
<circle cx="218.0" cy="2337.1" r="15.55"/>
<circle cx="586.3" cy="1252.9" r="15.55"/>
<circle cx="248.4" cy="2654.1" r="15.55"/>
<circle cx="282.6" cy="2194.7" r="15.55"/>
<circle cx="470.0" cy="1729.9" r="15.55"/>
<circle cx="696.0" cy="1459.5" r="15.55"/>
<circle cx="382.9" cy="2345.9" r="15.55"/>
<circle cx="531.8" cy="1543.1" r="15.55"/>
<circle cx="218.7" cy="2331.3" r="15.55"/>
<circle cx="663.0" cy="1144.3" r="15.55"/>
<circle cx="324.8" cy="1958.9" r="15.55"/>
<circle cx="305.7" cy="2052.0" r="15.55"/>
<circle cx="285.5" cy="2382.5" r="15.55"/>
<circle cx="489.5" cy="2098.5" r="15.55"/>
<circle cx="361.0" cy="2193.2" r="15.55"/>
<circle cx="537.4" cy="1432.9" r="15.55"/>
<circle cx="280.2" cy="2304.0" r="15.55"/>
<circle cx="472.4" cy="1679.7" r="15.55"/>
<circle cx="333.6" cy="2341.1" r="15.55"/>
<circle cx="419.1" cy="1945.8" r="15.55"/>
<circle cx="282.7" cy="2165.7" r="15.55"/>
<circle cx="654.1" cy="1193.2" r="15.55"/>
<circle cx="676.7" cy="1445.4" r="15.55"/>
<circle cx="450.1" cy="1971.0" r="15.55"/>
<circle cx="317.2" cy="2596.4" r="15.55"/>
<circle cx="498.9" cy="1382.0" r="15.55"/>
<circle cx="234.3" cy="2313.8" r="15.55"/>
<circle cx="233.8" cy="2361.9" r="15.55"/>
<circle cx="369.9" cy="1931.7" r="15.55"/>
<circle cx="241.0" cy="2639.0" r="15.55"/>
<circle cx="505.4" cy="2000.8" r="15.55"/>
<circle cx="352.2" cy="1906.9" r="15.55"/>
<circle cx="645.8" cy="1613.1" r="15.55"/>
<circle cx="225.7" cy="2236.3" r="15.55"/>
<circle cx="506.6" cy="1789.3" r="15.55"/>
<circle cx="293.2" cy="1925.7" r="15.55"/>
<circle cx="698.5" cy="1548.3" r="15.55"/>
<circle cx="689.7" cy="1425.8" r="15.55"/>
<circle cx="558.9" cy="1291.0" r="15.55"/>
<circle cx="638.3" cy="1595.1" r="15.55"/>
<circle cx="526.8" cy="2021.2" r="15.55"/>
<circle cx="426.6" cy="1691.9" r="15.55"/>
<circle cx="587.0" cy="1604.0" r="15.55"/>
<circle cx="487.8" cy="1828.5" r="15.55"/>
<circle cx="358.8" cy="2159.0" r="15.55"/>
<circle cx="420.8" cy="1546.5" r="15.55"/>
<circle cx="434.8" cy="1791.7" r="15.55"/>
<circle cx="218.0" cy="2366.8" r="15.55"/>
<circle cx="743.0" cy="1516.9" r="15.55"/>
<circle cx="643.4" cy="1533.5" r="15.55"/>
<circle cx="338.5" cy="2023.5" r="15.55"/>
<circle cx="485.4" cy="1397.9" r="15.55"/>
<circle cx="668.2" cy="1488.6" r="15.55"/>
<circle cx="697.5" cy="1525.3" r="15.55"/>
<circle cx="681.3" cy="1522.2" r="15.55"/>
<circle cx="352.0" cy="2393.8" r="15.55"/>
<circle cx="462.5" cy="1520.4" r="15.55"/>
<circle cx="292.6" cy="2325.5" r="15.55"/>
<circle cx="478.0" cy="1644.9" r="15.55"/>
<circle cx="450.8" cy="2131.5" r="15.55"/>
<circle cx="239.6" cy="2594.8" r="15.55"/>
<circle cx="218.0" cy="2179.6" r="15.55"/>
<circle cx="360.2" cy="2274.5" r="15.55"/>
<circle cx="321.0" cy="2094.7" r="15.55"/>
<circle cx="233.0" cy="2121.0" r="15.55"/>
<circle cx="479.7" cy="1982.8" r="15.55"/>
<circle cx="589.4" cy="1439.6" r="15.55"/>
<circle cx="623.7" cy="1661.3" r="15.55"/>
<circle cx="430.5" cy="1737.7" r="15.55"/>
<circle cx="285.8" cy="2281.4" r="15.55"/>
<circle cx="387.3" cy="2378.4" r="15.55"/>
<circle cx="285.5" cy="1897.8" r="15.55"/>
<circle cx="776.4" cy="998.0" r="15.55"/>
<circle cx="882.6" cy="1028.2" r="15.55"/>
<circle cx="893.1" cy="1047.9" r="15.55"/>
<circle cx="737.0" cy="1036.0" r="15.55"/>
<circle cx="679.3" cy="1088.5" r="15.55"/>
<circle cx="857.7" cy="1088.5" r="15.55"/>
<circle cx="565.1" cy="957.0" r="15.55"/>
<circle cx="548.2" cy="1057.4" r="15.55"/>
<circle cx="531.7" cy="1157.7" r="15.55"/>
<circle cx="571.8" cy="1143.9" r="15.55"/>
<circle cx="443.9" cy="1319.0" r="15.55"/>
<circle cx="1368.7" cy="1009.0" r="15.55"/>
<circle cx="1376.9" cy="1072.0" r="15.55"/>
<circle cx="1332.5" cy="1079.8" r="15.55"/>
<circle cx="1314.0" cy="1115.2" r="15.55"/>
<circle cx="1389.5" cy="1167.2" r="15.55"/>
<circle cx="1099.5" cy="1137.7" r="15.55"/>
<circle cx="1204.6" cy="1166.4" r="15.55"/>
<circle cx="1135.7" cy="1182.1" r="15.55"/>
<circle cx="1153.4" cy="1201.8" r="15.55"/>
<circle cx="1140.9" cy="1212.8" r="15.55"/>
<circle cx="1075.5" cy="1206.5" r="15.55"/>
<circle cx="1188.8" cy="1206.9" r="15.55"/>
<circle cx="1266.8" cy="1182.9" r="15.55"/>
<circle cx="1278.6" cy="1186.1" r="15.55"/>
<circle cx="1308.8" cy="1193.9" r="15.55"/>
<circle cx="1118.8" cy="1240.0" r="15.55"/>
<circle cx="1148.3" cy="1256.9" r="15.55"/>
<circle cx="1110.2" cy="1269.5" r="15.55"/>
<circle cx="1092.9" cy="1326.5" r="15.55"/>
<circle cx="1160.1" cy="1330.8" r="15.55"/>
<circle cx="1410.4" cy="1323.8" r="15.55"/>
<circle cx="1025.6" cy="1384.7" r="15.55"/>
<circle cx="1262.8" cy="1423.6" r="15.55"/>
<circle cx="1073.1" cy="1518.0" r="15.55"/>
<circle cx="1042.4" cy="1574.3" r="15.55"/>
<circle cx="936.6" cy="1580.9" r="15.55"/>
<circle cx="900.0" cy="1653.0" r="15.55"/>
<circle cx="941.3" cy="1798.5" r="15.55"/>
<circle cx="791.9" cy="1622.4" r="15.55"/>
<circle cx="862.8" cy="1643.3" r="15.55"/>
<circle cx="900.5" cy="1651.1" r="15.55"/>
<circle cx="837.6" cy="1672.8" r="15.55"/>
<circle cx="867.1" cy="1696.4" r="15.55"/>
<circle cx="771.5" cy="1667.7" r="15.55"/>
<circle cx="793.1" cy="1670.8" r="15.55"/>
<circle cx="766.8" cy="1701.1" r="15.55"/>
<circle cx="777.4" cy="1720.0" r="15.55"/>
<circle cx="832.5" cy="1753.4" r="15.55"/>
<circle cx="738.8" cy="1819.5" r="15.55"/>
<circle cx="767.5" cy="1832.1" r="15.55"/>
<circle cx="781.3" cy="1843.9" r="15.55"/>
<circle cx="825.8" cy="1885.2" r="15.55"/>
<circle cx="716.4" cy="1771.9" r="15.55"/>
<circle cx="735.3" cy="1747.5" r="15.55"/>
<circle cx="675.1" cy="1733.8" r="15.55"/>
<circle cx="677.0" cy="1811.3" r="15.55"/>
<circle cx="611.3" cy="1812.5" r="15.55"/>
<circle cx="598.4" cy="1800.7" r="15.55"/>
<circle cx="605.4" cy="1867.5" r="15.55"/>
<circle cx="644.4" cy="1872.7" r="15.55"/>
<circle cx="602.3" cy="1930.5" r="15.55"/>
<circle cx="712.5" cy="1975.7" r="15.55"/>
<circle cx="669.2" cy="2032.8" r="15.55"/>
<circle cx="652.7" cy="1664.9" r="15.55"/>
<circle cx="724.3" cy="1664.9" r="15.55"/>
<circle cx="688.9" cy="1643.3" r="15.55"/>
<circle cx="696.7" cy="1690.5" r="15.55"/>
<circle cx="606.2" cy="1751.5" r="15.55"/>
<circle cx="600.3" cy="1684.6" r="15.55"/>
<circle cx="605.2" cy="1803.1" r="15.55"/>
<circle cx="615.1" cy="1813.0" r="15.55"/>
<circle cx="676.0" cy="1809.0" r="15.55"/>
<circle cx="739.0" cy="1820.8" r="15.55"/>
<circle cx="619.0" cy="2037.2" r="15.55"/>
<circle cx="652.5" cy="2001.8" r="15.55"/>
<circle cx="556.1" cy="2092.3" r="15.55"/>
<circle cx="542.3" cy="1875.9" r="15.55"/>
<circle cx="929.0" cy="1329.9" r="15.55"/>
<circle cx="850.4" cy="1440.0" r="15.55"/>
<circle cx="871.6" cy="1521.5" r="15.55"/>
<circle cx="813.0" cy="1553.0" r="15.55"/>
<circle cx="792.1" cy="1621.8" r="15.55"/>
<circle cx="957.4" cy="1263.8" r="15.55"/>
<circle cx="986.9" cy="1257.9" r="15.55"/>
<circle cx="866.9" cy="1287.4" r="15.55"/>
<circle cx="894.0" cy="1250.0" r="15.55"/>
<circle cx="839.0" cy="1250.0" r="15.55"/>
<circle cx="854.1" cy="1112.1" r="15.55"/>
<circle cx="865.1" cy="1154.2" r="15.55"/>
<circle cx="779.3" cy="1147.5" r="15.55"/>
<circle cx="791.1" cy="1135.7" r="15.55"/>
<circle cx="812.8" cy="1191.6" r="15.55"/>
<circle cx="795.1" cy="1214.4" r="15.55"/>
<circle cx="953.6" cy="1162.5" r="15.55"/>
<circle cx="930.8" cy="1194.8" r="15.55"/>
<circle cx="919.0" cy="1214.4" r="15.55"/>
<circle cx="913.1" cy="1220.3" r="15.55"/>
<circle cx="896.6" cy="1244.7" r="15.55"/>
<circle cx="842.3" cy="1253.8" r="15.55"/>
<circle cx="860.0" cy="1293.1" r="15.55"/>
<circle cx="834.4" cy="1314.8" r="15.55"/>
<circle cx="860.0" cy="1314.8" r="15.55"/>
<circle cx="854.1" cy="1338.4" r="15.55"/>
<circle cx="803.0" cy="1360.0" r="15.55"/>
<circle cx="831.3" cy="1362.0" r="15.55"/>
<circle cx="804.9" cy="1391.5" r="15.55"/>
<circle cx="753.8" cy="1391.5" r="15.55"/>
<circle cx="791.1" cy="1432.8" r="15.55"/>
<circle cx="771.5" cy="1291.1" r="15.55"/>
<circle cx="386.9" cy="1538.8" r="15.55"/>
<circle cx="391.6" cy="1587.2" r="15.55"/>
<circle cx="418.4" cy="1551.8" r="15.55"/>
<circle cx="319.2" cy="1730.8" r="15.55"/>
<circle cx="475.0" cy="1376.7" r="15.55"/>
<circle cx="510.8" cy="1319.7" r="15.55"/>
<circle cx="526.6" cy="1329.5" r="15.55"/>
<circle cx="544.3" cy="1418.0" r="15.55"/>
<circle cx="311.1" cy="2666.2" r="15.55"/>
<circle cx="317.7" cy="2687.7" r="15.55"/>
<circle cx="258.7" cy="2665.0" r="15.55"/>
<circle cx="313.8" cy="2625.6" r="15.55"/>
<circle cx="337.4" cy="2591.5" r="15.55"/>
<circle cx="681.0" cy="1081.0" r="15.55"/>
<circle cx="650.0" cy="1118.0" r="15.55"/>
<circle cx="623.6" cy="1157.0" r="15.55"/>
<circle cx="610.5" cy="1183.6" r="15.55"/>
<circle cx="671.0" cy="1204.6" r="15.55"/>
<circle cx="702.0" cy="1183.6" r="15.55"/>
<circle cx="781.0" cy="1147.0" r="15.55"/>
<circle cx="812.0" cy="1183.6" r="15.55"/>
<circle cx="802.0" cy="1215.0" r="15.55"/>
<circle cx="833.4" cy="1251.8" r="15.55"/>
<circle cx="676.0" cy="1249.0" r="15.55"/>
<circle cx="592.0" cy="1275.0" r="15.55"/>
<circle cx="545.0" cy="1288.5" r="15.55"/>
<circle cx="663.0" cy="1283.0" r="15.55"/>
<circle cx="768.0" cy="1283.0" r="15.55"/>
<circle cx="741.6" cy="1183.6" r="15.55"/>
<circle cx="532.5" cy="1903.5" r="15.55"/>
<circle cx="536.4" cy="1935.0" r="15.55"/>
<circle cx="534.4" cy="1860.0" r="15.55"/>
<circle cx="548.2" cy="1872.0" r="15.55"/>
<circle cx="538.4" cy="1976.0" r="15.55"/>
<circle cx="550.0" cy="1998.0" r="15.55"/>
<circle cx="581.6" cy="2009.7" r="15.55"/>
<circle cx="546.2" cy="2021.5" r="15.55"/>
<circle cx="542.3" cy="2041.0" r="15.55"/>
<circle cx="544.3" cy="2072.6" r="15.55"/>
<circle cx="556.0" cy="2092.0" r="15.55"/>
<circle cx="618.0" cy="2036.0" r="15.55"/>
<circle cx="654.4" cy="2003.8" r="15.55"/>
<circle cx="710.5" cy="1974.3" r="15.55"/>
<circle cx="625.0" cy="1964.0" r="15.55"/>
<circle cx="597.4" cy="1801.0" r="15.55"/>
<circle cx="735.0" cy="1821.0" r="15.55"/>
<circle cx="571.8" cy="1767.7" r="15.55"/>
<circle cx="546.2" cy="1795.0" r="15.55"/>
<circle cx="607.0" cy="1758.0" r="15.55"/>
<circle cx="573.8" cy="1832.6" r="15.55"/>
</g>
<g fill="#fff" stroke="#234558" stroke-width="6.1">
<circle cx="978.2" cy="834.0" r="15.55"/>
<circle cx="883.2" cy="874.0" r="15.55"/>
<circle cx="948.5" cy="847.9" r="15.55"/>
<circle cx="915.8" cy="838.0" r="15.55"/>
<circle cx="826.1" cy="864.6" r="15.55"/>
<circle cx="976.6" cy="889.6" r="15.55"/>
<circle cx="859.5" cy="849.8" r="15.55"/>
<circle cx="812.1" cy="819.5" r="15.55"/>
<circle cx="846.3" cy="980.9" r="15.55"/>
<circle cx="854.3" cy="893.0" r="15.55"/>
<circle cx="849.5" cy="944.4" r="15.55"/>
<circle cx="935.0" cy="817.1" r="15.55"/>
<circle cx="823.2" cy="1026.7" r="15.55"/>
<circle cx="800.1" cy="902.2" r="15.55"/>
<circle cx="899.9" cy="893.7" r="15.55"/>
<circle cx="797.2" cy="844.7" r="15.55"/>
<circle cx="880.2" cy="926.5" r="15.55"/>
<circle cx="803.5" cy="930.4" r="15.55"/>
<circle cx="812.8" cy="1053.4" r="15.55"/>
<circle cx="835.2" cy="1001.5" r="15.55"/>
<circle cx="894.0" cy="958.8" r="15.55"/>
<circle cx="926.4" cy="926.2" r="15.55"/>
<circle cx="841.3" cy="923.0" r="15.55"/>
<circle cx="862.3" cy="810.8" r="15.55"/>
<circle cx="960.1" cy="925.7" r="15.55"/>
<circle cx="803.7" cy="969.7" r="15.55"/>
<circle cx="829.8" cy="887.4" r="15.55"/>
<circle cx="952.0" cy="873.7" r="15.55"/>
<circle cx="874.1" cy="972.7" r="15.55"/>
<circle cx="967.4" cy="858.9" r="15.55"/>
<circle cx="843.0" cy="1034.2" r="15.55"/>
<circle cx="958.6" cy="820.5" r="15.55"/>
<circle cx="785.6" cy="1016.8" r="15.55"/>
<circle cx="912.0" cy="946.9" r="15.55"/>
<circle cx="986.5" cy="912.3" r="15.55"/>
<circle cx="813.2" cy="989.4" r="15.55"/>
<circle cx="893.7" cy="840.1" r="15.55"/>
<circle cx="910.7" cy="871.6" r="15.55"/>
<circle cx="829.1" cy="834.8" r="15.55"/>
<circle cx="917.5" cy="906.3" r="15.55"/>
<circle cx="819.5" cy="952.6" r="15.55"/>
<circle cx="955.3" cy="897.2" r="15.55"/>
<circle cx="820.6" cy="916.7" r="15.55"/>
<circle cx="992.6" cy="856.2" r="15.55"/>
<circle cx="796.1" cy="881.3" r="15.55"/>
<circle cx="893.7" cy="815.9" r="15.55"/>
<circle cx="872.1" cy="951.2" r="15.55"/>
<circle cx="792.3" cy="950.2" r="15.55"/>
<circle cx="829.8" cy="808.1" r="15.55"/>
<circle cx="931.6" cy="865.1" r="15.55"/>
<circle cx="946.5" cy="943.3" r="15.55"/>
<circle cx="787.8" cy="1045.5" r="15.55"/>
<circle cx="852.4" cy="871.6" r="15.55"/>
<circle cx="787.1" cy="992.5" r="15.55"/>
<circle cx="876.5" cy="902.6" r="15.55"/>
<circle cx="904.5" cy="925.9" r="15.55"/>
<circle cx="999.6" cy="882.9" r="15.55"/>
<circle cx="842.3" cy="1059.9" r="15.55"/>
<circle cx="849.5" cy="829.2" r="15.55"/>
<circle cx="1335.7" cy="454.1" r="15.55"/>
<circle cx="1310.2" cy="523.9" r="15.55"/>
<circle cx="1239.3" cy="528.9" r="15.55"/>
<circle cx="1181.0" cy="565.6" r="15.55"/>
<circle cx="1228.9" cy="575.1" r="15.55"/>
<circle cx="1201.3" cy="607.2" r="15.55"/>
<circle cx="1224.3" cy="659.0" r="15.55"/>
<circle cx="1127.2" cy="585.6" r="15.55"/>
<circle cx="1113.4" cy="600.0" r="15.55"/>
<circle cx="1150.2" cy="613.8" r="15.55"/>
<circle cx="1134.1" cy="637.7" r="15.55"/>
<circle cx="1143.9" cy="654.1" r="15.55"/>
<circle cx="1143.9" cy="669.5" r="15.55"/>
<circle cx="1141.3" cy="683.6" r="15.55"/>
<circle cx="1007.2" cy="599.3" r="15.55"/>
<circle cx="1053.8" cy="596.7" r="15.55"/>
<circle cx="1069.5" cy="596.7" r="15.55"/>
<circle cx="912.8" cy="603.3" r="15.55"/>
<circle cx="925.9" cy="626.2" r="15.55"/>
<circle cx="1091.5" cy="629.5" r="15.55"/>
<circle cx="1076.0" cy="641.0" r="15.55"/>
<circle cx="968.5" cy="636.0" r="15.55"/>
<circle cx="988.2" cy="662.3" r="15.55"/>
<circle cx="1055.4" cy="672.1" r="15.55"/>
<circle cx="1065.2" cy="683.6" r="15.55"/>
<circle cx="889.8" cy="678.7" r="15.55"/>
<circle cx="909.5" cy="682.0" r="15.55"/>
<circle cx="929.2" cy="685.2" r="15.55"/>
<circle cx="886.6" cy="705.0" r="15.55"/>
<circle cx="1088.2" cy="706.6" r="15.55"/>
<circle cx="1137.4" cy="723.9" r="15.55"/>
<circle cx="1057.0" cy="749.2" r="15.55"/>
<circle cx="1070.0" cy="744.0" r="15.55"/>
<circle cx="1135.7" cy="752.5" r="15.55"/>
<circle cx="1104.6" cy="768.9" r="15.55"/>
<circle cx="1009.5" cy="698.4" r="15.55"/>
<circle cx="994.8" cy="727.9" r="15.55"/>
<circle cx="1093.8" cy="793.4" r="15.55"/>
<circle cx="1137.4" cy="795.0" r="15.55"/>
<circle cx="1155.4" cy="796.7" r="15.55"/>
<circle cx="1180.0" cy="801.6" r="15.55"/>
<circle cx="1186.6" cy="796.7" r="15.55"/>
<circle cx="1224.3" cy="808.2" r="15.55"/>
<circle cx="1239.0" cy="813.1" r="15.55"/>
<circle cx="1053.8" cy="844.3" r="15.55"/>
<circle cx="1074.1" cy="841.6" r="15.55"/>
<circle cx="1006.2" cy="782.0" r="15.55"/>
<circle cx="939.0" cy="790.0" r="15.55"/>
<circle cx="950.5" cy="821.3" r="15.55"/>
<circle cx="993.0" cy="845.9" r="15.55"/>
<circle cx="889.8" cy="878.7" r="15.55"/>
<circle cx="909.5" cy="864.0" r="15.55"/>
<circle cx="917.7" cy="900.0" r="15.55"/>
<circle cx="932.5" cy="893.4" r="15.55"/>
<circle cx="962.0" cy="924.6" r="15.55"/>
<circle cx="886.6" cy="929.5" r="15.55"/>
<circle cx="903.0" cy="965.6" r="15.55"/>
<circle cx="939.7" cy="1011.5" r="15.55"/>
<circle cx="925.9" cy="1068.9" r="15.55"/>
<circle cx="962.0" cy="844.0" r="15.55"/>
<circle cx="863.0" cy="725.2" r="15.55"/>
<circle cx="847.2" cy="809.2" r="15.55"/>
<circle cx="813.1" cy="822.3" r="15.55"/>
<circle cx="810.5" cy="843.3" r="15.55"/>
<circle cx="716.1" cy="899.7" r="15.55"/>
<circle cx="730.5" cy="899.7" r="15.55"/>
<circle cx="735.7" cy="943.0" r="15.55"/>
<circle cx="708.2" cy="1011.1" r="15.55"/>
<circle cx="671.5" cy="1038.7" r="15.55"/>
<circle cx="857.2" cy="1070.2" r="15.55"/>
<circle cx="800.0" cy="1070.2" r="15.55"/>
<circle cx="821.0" cy="1046.6" r="15.55"/>
<circle cx="813.0" cy="999.0" r="15.55"/>
<circle cx="792.0" cy="994.0" r="15.55"/>
<circle cx="828.9" cy="988.9" r="15.55"/>
<circle cx="779.0" cy="952.0" r="15.55"/>
<circle cx="789.5" cy="912.8" r="15.55"/>
<circle cx="810.5" cy="834.1" r="15.55"/>
<circle cx="813.0" cy="855.0" r="15.55"/>
<circle cx="834.0" cy="860.0" r="15.55"/>
<circle cx="889.2" cy="876.1" r="15.55"/>
<circle cx="915.4" cy="901.0" r="15.55"/>
<circle cx="928.5" cy="886.6" r="15.55"/>
<circle cx="902.3" cy="868.2" r="15.55"/>
<circle cx="884.0" cy="923.3" r="15.55"/>
<circle cx="949.5" cy="813.0" r="15.55"/>
<circle cx="876.0" cy="905.0" r="15.55"/>
<circle cx="902.0" cy="915.0" r="15.55"/>
<circle cx="823.6" cy="1088.5" r="15.55"/>
<circle cx="726.6" cy="1093.8" r="15.55"/>
<circle cx="786.9" cy="1088.5" r="15.55"/>
<circle cx="766.0" cy="1078.0" r="15.55"/>
<circle cx="723.3" cy="904.0" r="15.55"/>
<circle cx="642.6" cy="1159.7" r="15.55"/>
<circle cx="646.6" cy="1187.2" r="15.55"/>
<circle cx="691.8" cy="1140.0" r="15.55"/>
<circle cx="717.4" cy="1175.4" r="15.55"/>
<circle cx="723.3" cy="1096.7" r="15.55"/>
<circle cx="683.9" cy="1228.5" r="15.55"/>
<circle cx="691.8" cy="1228.5" r="15.55"/>
<circle cx="711.5" cy="1260.0" r="15.55"/>
<circle cx="741.0" cy="1214.8" r="15.55"/>
<circle cx="750.8" cy="1254.1" r="15.55"/>
<circle cx="644.6" cy="1256.0" r="15.55"/>
<circle cx="782.3" cy="1222.6" r="15.55"/>
<circle cx="632.8" cy="1283.6" r="15.55"/>
<circle cx="790.0" cy="1069.0" r="15.55"/>
<circle cx="790.0" cy="1116.0" r="15.55"/>
<circle cx="778.0" cy="1104.6" r="15.55"/>
<circle cx="799.0" cy="1070.0" r="15.55"/>
<circle cx="816.7" cy="1098.4" r="15.55"/>
<circle cx="797.0" cy="1116.0" r="15.55"/>
<circle cx="838.4" cy="1102.3" r="15.55"/>
<circle cx="779.3" cy="1094.4" r="15.55"/>
<circle cx="777.4" cy="1216.4" r="15.55"/>
<circle cx="751.8" cy="1212.5" r="15.55"/>
<circle cx="779.3" cy="1243.9" r="15.55"/>
<circle cx="749.8" cy="1255.7" r="15.55"/>
<circle cx="748.8" cy="1339.3" r="15.55"/>
</g>
<g fill="#fff" stroke="#4f8bd9" stroke-width="6.1">
<circle cx="930.8" cy="609.8" r="15.55"/>
<circle cx="978.4" cy="609.8" r="15.55"/>
<circle cx="986.6" cy="616.4" r="15.55"/>
<circle cx="1027.5" cy="614.8" r="15.55"/>
<circle cx="1053.8" cy="613.8" r="15.55"/>
<circle cx="1070.2" cy="613.8" r="15.55"/>
<circle cx="962.0" cy="650.8" r="15.55"/>
<circle cx="1012.8" cy="677.0" r="15.55"/>
<circle cx="975.0" cy="683.6" r="15.55"/>
<circle cx="989.8" cy="691.8" r="15.55"/>
<circle cx="1040.7" cy="690.2" r="15.55"/>
<circle cx="943.9" cy="700.0" r="15.55"/>
<circle cx="919.3" cy="719.7" r="15.55"/>
<circle cx="952.1" cy="723.0" r="15.55"/>
<circle cx="1001.3" cy="719.7" r="15.55"/>
<circle cx="965.0" cy="701.6" r="15.55"/>
<circle cx="1086.6" cy="716.4" r="15.55"/>
<circle cx="1063.6" cy="734.4" r="15.55"/>
<circle cx="1117.7" cy="729.5" r="15.55"/>
<circle cx="939.0" cy="759.0" r="15.55"/>
<circle cx="898.0" cy="773.8" r="15.55"/>
<circle cx="898.0" cy="785.2" r="15.55"/>
<circle cx="909.5" cy="801.6" r="15.55"/>
<circle cx="1001.3" cy="808.2" r="15.55"/>
<circle cx="889.8" cy="844.3" r="15.55"/>
<circle cx="934.1" cy="842.6" r="15.55"/>
<circle cx="971.8" cy="860.7" r="15.55"/>
<circle cx="988.2" cy="850.8" r="15.55"/>
<circle cx="981.6" cy="863.9" r="15.55"/>
<circle cx="998.7" cy="873.8" r="15.55"/>
<circle cx="1058.7" cy="875.4" r="15.55"/>
<circle cx="1053.1" cy="888.5" r="15.55"/>
<circle cx="967.9" cy="897.7" r="15.55"/>
<circle cx="930.8" cy="928.9" r="15.55"/>
<circle cx="994.8" cy="953.1" r="15.55"/>
<circle cx="898.0" cy="987.9" r="15.55"/>
<circle cx="999.7" cy="1021.3" r="15.55"/>
<circle cx="880.0" cy="972.0" r="15.55"/>
<circle cx="838.0" cy="607.2" r="15.55"/>
<circle cx="844.6" cy="725.2" r="15.55"/>
<circle cx="839.3" cy="743.6" r="15.55"/>
<circle cx="973.0" cy="791.0" r="15.55"/>
<circle cx="779.0" cy="855.1" r="15.55"/>
<circle cx="870.8" cy="832.8" r="15.55"/>
<circle cx="849.8" cy="872.1" r="15.55"/>
<circle cx="845.9" cy="904.9" r="15.55"/>
<circle cx="863.0" cy="929.8" r="15.55"/>
<circle cx="809.2" cy="941.6" r="15.55"/>
<circle cx="807.9" cy="957.4" r="15.55"/>
<circle cx="809.2" cy="970.5" r="15.55"/>
<circle cx="775.1" cy="961.3" r="15.55"/>
<circle cx="746.2" cy="973.1" r="15.55"/>
<circle cx="717.4" cy="987.5" r="15.55"/>
<circle cx="857.7" cy="952.1" r="15.55"/>
<circle cx="870.8" cy="971.8" r="15.55"/>
<circle cx="898.4" cy="987.5" r="15.55"/>
<circle cx="861.6" cy="1002.0" r="15.55"/>
<circle cx="826.2" cy="1023.0" r="15.55"/>
<circle cx="747.5" cy="1020.3" r="15.55"/>
<circle cx="748.9" cy="1030.8" r="15.55"/>
<circle cx="780.3" cy="1038.7" r="15.55"/>
<circle cx="658.4" cy="1015.0" r="15.55"/>
<circle cx="654.4" cy="1045.2" r="15.55"/>
<circle cx="709.5" cy="1061.0" r="15.55"/>
<circle cx="747.5" cy="1065.0" r="15.55"/>
<circle cx="642.6" cy="1075.4" r="15.55"/>
<circle cx="745.0" cy="1093.8" r="15.55"/>
<circle cx="697.7" cy="1099.0" r="15.55"/>
<circle cx="969.2" cy="857.7" r="15.55"/>
<circle cx="944.0" cy="860.0" r="15.55"/>
<circle cx="886.6" cy="844.6" r="15.55"/>
<circle cx="868.2" cy="826.2" r="15.55"/>
<circle cx="891.8" cy="813.0" r="15.55"/>
<circle cx="794.8" cy="920.7" r="15.55"/>
<circle cx="831.5" cy="918.0" r="15.55"/>
<circle cx="458.5" cy="1131.3" r="15.55"/>
<circle cx="482.5" cy="1179.3" r="15.55"/>
<circle cx="517.9" cy="1250.9" r="15.55"/>
<circle cx="593.4" cy="1098.7" r="15.55"/>
<circle cx="587.5" cy="1137.2" r="15.55"/>
<circle cx="624.9" cy="1136.1" r="15.55"/>
<circle cx="624.1" cy="1067.2" r="15.55"/>
<circle cx="642.6" cy="1073.1" r="15.55"/>
<circle cx="660.3" cy="1112.5" r="15.55"/>
<circle cx="697.7" cy="1107.7" r="15.55"/>
<circle cx="660.3" cy="1155.7" r="15.55"/>
<circle cx="744.9" cy="1100.7" r="15.55"/>
<circle cx="750.8" cy="1120.3" r="15.55"/>
<circle cx="719.3" cy="1138.0" r="15.55"/>
<circle cx="742.2" cy="1169.5" r="15.55"/>
<circle cx="769.7" cy="1202.2" r="15.55"/>
<circle cx="782.3" cy="1254.1" r="15.55"/>
<circle cx="577.7" cy="1199.0" r="15.55"/>
<circle cx="603.3" cy="1210.8" r="15.55"/>
<circle cx="593.4" cy="1234.4" r="15.55"/>
<circle cx="597.4" cy="1242.3" r="15.55"/>
<circle cx="554.1" cy="1323.0" r="15.55"/>
<circle cx="751.8" cy="1118.0" r="15.55"/>
</g>
<g fill="#70c258" stroke="#25357b" stroke-width="3.7">
<rect x="1246.2" y="1448.8" width="40.9" height="40.9"/>
<rect x="1231.6" y="1433.0" width="40.9" height="40.9"/>
<rect x="1319.1" y="1548.5" width="40.9" height="40.9"/>
<rect x="1305.1" y="1532.5" width="40.9" height="40.9"/>
<rect x="1284.0" y="1394.5" width="40.9" height="40.9"/>
<rect x="1341.8" y="1419.5" width="40.9" height="40.9"/>
<rect x="1514.8" y="1412.5" width="40.9" height="40.9"/>
<rect x="1499.8" y="1395.5" width="40.9" height="40.9"/>
<rect x="1358.2" y="1355.5" width="40.9" height="40.9"/>
<rect x="1344.5" y="1339.0" width="40.9" height="40.9"/>
</g>
<g fill="#fccc60" stroke="#25357b" stroke-width="3.7">
<path d="M583.6 1152.2L606.6 1182.5L583.6 1212.8L560.6 1182.5Z"/>
<path d="M558.0 1225.8L581.0 1256.0L558.0 1286.2L535.0 1256.0Z"/>
<path d="M597.4 1267.2L620.4 1297.4L597.4 1327.7L574.4 1297.4Z"/>
<path d="M642.6 1263.2L665.6 1293.4L642.6 1323.7L619.6 1293.4Z"/>
<path d="M567.9 1286.8L590.9 1317.0L567.9 1347.2L544.9 1317.0Z"/>
<path d="M607.2 1302.5L630.2 1332.8L607.2 1363.0L584.2 1332.8Z"/>
<path d="M729.2 1286.8L752.2 1317.0L729.2 1347.2L706.2 1317.0Z"/>
<path d="M636.7 1310.3L659.7 1340.6L636.7 1370.8L613.7 1340.6Z"/>
<path d="M596.6 1374.0L619.6 1404.3L596.6 1434.5L573.6 1404.3Z"/>
<path d="M632.8 1350.5L655.8 1380.7L632.8 1411.0L609.8 1380.7Z"/>
<path d="M687.1 1356.3L710.1 1386.6L687.1 1416.8L664.1 1386.6Z"/>
<path d="M634.7 1399.5L657.7 1429.8L634.7 1460.0L611.7 1429.8Z"/>
<path d="M582.8 1417.2L605.8 1447.5L582.8 1477.8L559.8 1447.5Z"/>
<path d="M555.3 1444.0L578.3 1474.3L555.3 1504.5L532.3 1474.3Z"/>
<path d="M637.5 1437.0L660.5 1467.2L637.5 1497.5L614.5 1467.2Z"/>
<path d="M658.4 1452.8L681.4 1483.0L658.4 1513.2L635.4 1483.0Z"/>
<path d="M579.7 1560.2L602.7 1590.4L579.7 1620.7L556.7 1590.4Z"/>
<path d="M557.7 1685.0L580.7 1715.2L557.7 1745.5L534.7 1715.2Z"/>
<path d="M554.2 1804.5L577.2 1834.8L554.2 1865.0L531.2 1834.8Z"/>
</g>
<g fill="#70c258" stroke="#25357b" stroke-width="3.7" stroke-linejoin="miter">
<path d="M451.8 1758.0L478.1 1803.3H425.5Z"/>
<path d="M437.2 1869.2L463.5 1914.6H410.9Z"/>
<path d="M467.5 1866.0L493.8 1911.4H441.2Z"/>
<path d="M459.7 1885.8L486.0 1931.2H433.4Z"/>
<path d="M483.3 1889.8L509.6 1935.1H457.0Z"/>
<path d="M509.6 1898.5L535.9 1943.8H483.3Z"/>
<path d="M428.2 1927.0L454.5 1972.4H401.9Z"/>
<path d="M447.9 1928.3L474.2 1973.7H421.6Z"/>
<path d="M424.3 1948.8L450.6 1994.1H398.0Z"/>
<path d="M462.8 1939.0L489.1 1984.3H436.5Z"/>
<path d="M497.0 1937.0L523.3 1982.3H470.7Z"/>
<path d="M451.8 1960.5L478.1 2005.9H425.5Z"/>
<path d="M459.7 1976.0L486.0 2021.4H433.4Z"/>
<path d="M493.1 1972.3L519.4 2017.7H466.8Z"/>
<path d="M467.5 2007.8L493.8 2053.0H441.2Z"/>
<path d="M465.6 2044.4L491.9 2089.7H439.3Z"/>
</g>
<g fill="#8e90d6" stroke="#25357b" stroke-width="3.7" stroke-linejoin="miter">
<path d="M534.4 925.9L560.7 971.1H508.1Z"/>
<path d="M275.5 994.9L301.8 1040.2H249.2Z"/>
<path d="M259.0 1023.6L285.3 1069.0H232.7Z"/>
<path d="M436.0 1025.0L462.3 1070.3H409.7Z"/>
<path d="M506.9 1015.1L533.2 1060.5H480.6Z"/>
<path d="M522.6 1043.3L548.9 1088.6H496.3Z"/>
<path d="M445.9 1065.0L472.2 1110.3H419.6Z"/>
<path d="M558.0 1076.0L584.3 1121.3H531.7Z"/>
<path d="M504.9 1112.8L531.2 1158.1H478.6Z"/>
<path d="M436.0 1200.2L462.3 1245.6H409.7Z"/>
<path d="M495.0 1247.9L521.3 1293.2H468.7Z"/>
<path d="M320.0 1278.0L346.3 1323.3H293.7Z"/>
<path d="M481.3 1299.0L507.6 1344.4H455.0Z"/>
<path d="M387.3 1325.6L413.6 1371.0H361.0Z"/>
<path d="M436.0 1339.5L462.3 1384.8H409.7Z"/>
<path d="M457.7 1326.5L484.0 1371.8H431.4Z"/>
<path d="M451.8 1365.0L478.1 1410.4H425.5Z"/>
<path d="M453.8 1402.3L480.1 1447.7H427.5Z"/>
<path d="M509.6 1400.5L535.9 1445.8H483.3Z"/>
<path d="M447.9 1451.5L474.2 1496.9H421.6Z"/>
<path d="M486.0 1463.3L512.3 1508.7H459.7Z"/>
<path d="M430.2 1485.0L456.5 1530.4H403.9Z"/>
<path d="M466.8 1483.8L493.1 1529.2H440.5Z"/>
<path d="M506.9 1500.8L533.2 1546.1H480.6Z"/>
<path d="M343.6 1538.1L369.9 1583.5H317.3Z"/>
<path d="M465.6 1550.0L491.9 1595.3H439.3Z"/>
<path d="M375.9 1610.1L402.2 1655.5H349.6Z"/>
<path d="M391.6 1668.0L417.9 1713.3H365.3Z"/>
<path d="M424.3 1705.3L450.6 1750.7H398.0Z"/>
<path d="M363.3 1799.2L389.6 1844.6H337.0Z"/>
<path d="M409.3 1794.5L435.6 1839.9H383.0Z"/>
<path d="M461.6 1785.5L487.9 1830.8H435.3Z"/>
<path d="M379.0 1843.3L405.3 1888.7H352.7Z"/>
<path d="M443.1 1822.8L469.4 1868.2H416.8Z"/>
<path d="M402.6 1979.5L428.9 2024.8H376.3Z"/>
</g>
<path d="M604.8 1972.0h53.0M631.3 1945.5v53.0M291.5 2167.0h53.0M318.0 2140.5v53.0M315.1 2283.1h53.0M341.6 2256.6v53.0M283.7 2300.0h53.0M310.2 2273.5v53.0M260.8 2339.3h53.0M287.3 2312.8v53.0M293.5 2339.3h53.0M320.0 2312.8v53.0M301.4 2382.6h53.0M327.9 2356.1v53.0M330.9 2382.6h53.0M357.4 2356.1v53.0M270.7 2408.2h53.0M297.2 2381.7v53.0M343.5 2417.2h53.0M370.0 2390.7v53.0M300.2 2441.6h53.0M326.7 2415.1v53.0M321.0 2471.1h53.0M347.5 2444.6v53.0M258.1 2473.1h53.0M284.6 2446.6v53.0M297.4 2504.6h53.0M323.9 2478.1v53.0M256.1 2512.5h53.0M282.6 2486.0v53.0M281.7 2549.8h53.0M308.2 2523.3v53.0M310.0 2541.2h53.0M336.5 2514.7v53.0M214.8 2584.1h53.0M241.3 2557.6v53.0M258.1 2604.9h53.0M284.6 2578.4v53.0M297.4 2606.9h53.0M323.9 2580.4v53.0M266.3 2647.9h53.0M292.8 2621.4v53.0M228.3 2684.6h53.0M254.8 2658.1v53.0M228.3 2725.8h53.0M254.8 2699.3v53.0M253.2 2744.1h53.0M279.7 2717.6v53.0M229.6 2768.0h53.0M256.1 2741.5v53.0M270.2 2775.6h53.0M296.7 2749.1v53.0M234.8 2806.6h53.0M261.3 2780.1v53.0M242.5 2628.0h53.0M269.0 2601.5v53.0" stroke="#f08560" stroke-width="8.3" fill="none"/>
<path d="M1493.7 624.9h53.0M1520.2 598.4v53.0M1464.2 655.6h53.0M1490.7 629.1v53.0M1552.3 655.6h53.0M1578.8 629.1v53.0M1522.8 675.3h53.0M1549.3 648.8v53.0M1464.2 752.8h53.0M1490.7 726.3v53.0M1449.6 792.1h53.0M1476.1 765.6v53.0M1508.3 802.8h53.0M1534.8 776.3v53.0M1479.9 827.5h53.0M1506.4 801.0v53.0M1374.5 843.3h53.0M1401.0 816.8v53.0M1655.8 906.2h53.0M1682.3 879.7v53.0M1655.8 944.4h53.0M1682.3 917.9v53.0M1186.0 1230.1h53.0M1212.5 1203.6v53.0M1024.6 1347.4h53.0M1051.1 1320.9v53.0M1147.8 1369.0h53.0M1174.3 1342.5v53.0M1096.3 1384.7h53.0M1122.8 1358.2v53.0M1069.9 1394.6h53.0M1096.4 1368.1v53.0M1318.5 1330.8h53.0M1345.0 1304.3v53.0M1495.8 1193.0h53.0M1522.3 1166.5v53.0M1522.5 1191.8h53.0M1549.0 1165.3v53.0M1621.7 1193.7h53.0M1648.2 1167.2v53.0M1700.0 1202.0h53.0M1726.5 1175.5v53.0M1722.0 1233.5h53.0M1748.5 1207.0v53.0M1539.1 1231.5h53.0M1565.6 1205.0v53.0M1567.0 1220.5h53.0M1593.5 1194.0v53.0M1591.4 1248.0h53.0M1617.9 1221.5v53.0M1683.5 1257.9h53.0M1710.0 1231.4v53.0M1654.3 1269.7h53.0M1680.8 1243.2v53.0M1411.2 1255.9h53.0M1437.7 1229.4v53.0M1436.0 1294.5h53.0M1462.5 1268.0v53.0M1405.3 1309.0h53.0M1431.8 1282.5v53.0M1460.4 1318.9h53.0M1486.9 1292.4v53.0M1506.8 1314.9h53.0M1533.3 1288.4v53.0M1580.4 1298.4h53.0M1606.9 1271.9v53.0M1557.6 1319.6h53.0M1584.1 1293.1v53.0M1600.1 1318.9h53.0M1626.6 1292.4v53.0M1624.8 1307.8h53.0M1651.3 1281.3v53.0M1318.7 1330.7h53.0M1345.2 1304.2v53.0M1377.8 1332.6h53.0M1404.3 1306.1v53.0M1436.0 1344.4h53.0M1462.5 1317.9v53.0M1489.9 1357.0h53.0M1516.4 1330.5v53.0M1570.5 1357.0h53.0M1597.0 1330.5v53.0M1607.1 1369.2h53.0M1633.6 1342.7v53.0M1539.1 1381.8h53.0M1565.6 1355.3v53.0M1584.3 1389.7h53.0M1610.8 1363.2v53.0M1405.3 1391.6h53.0M1431.8 1365.1v53.0M1377.0 1378.7h53.0M1403.5 1352.2v53.0M1464.3 1395.6h53.0M1490.8 1369.1v53.0M1347.1 1405.4h53.0M1373.6 1378.9v53.0M1517.4 1407.4h53.0M1543.9 1380.9v53.0M1419.1 1425.1h53.0M1445.6 1398.6v53.0M1450.5 1432.2h53.0M1477.0 1405.7v53.0M1288.1 1434.9h53.0M1314.6 1408.4v53.0M1303.0 1475.0h53.0M1329.5 1448.5v53.0M1328.6 1486.1h53.0M1355.1 1459.6v53.0M1281.4 1515.6h53.0M1307.9 1489.1v53.0M1347.1 1529.3h53.0M1373.6 1502.8v53.0M1263.8 1545.5h53.0M1290.3 1519.0v53.0M981.7 1414.9h53.0M1008.2 1388.4v53.0M1010.4 1414.9h53.0M1036.9 1388.4v53.0M1040.7 1414.9h53.0M1067.2 1388.4v53.0M873.5 1444.4h53.0M900.0 1417.9v53.0M994.7 1455.0h53.0M1021.2 1428.5v53.0M1053.7 1464.1h53.0M1080.2 1437.6v53.0M977.8 1483.0h53.0M1004.3 1456.5v53.0M1026.2 1481.8h53.0M1052.7 1455.3v53.0M994.7 1512.1h53.0M1021.2 1485.6v53.0M981.7 1550.7h53.0M1008.2 1524.2v53.0M1024.2 1562.5h53.0M1050.7 1536.0v53.0M1125.3 1456.2h53.0M1151.8 1429.7v53.0M1156.8 1466.1h53.0M1183.3 1439.6v53.0M1184.3 1449.5h53.0M1210.8 1423.0v53.0M1141.0 1496.4h53.0M1167.5 1469.9v53.0M1098.5 1512.1h53.0M1125.0 1485.6v53.0M1124.5 1525.1h53.0M1151.0 1498.6v53.0M1101.7 1570.3h53.0M1128.2 1543.8v53.0M945.1 1608.5h53.0M971.6 1582.0v53.0M986.4 1644.3h53.0M1012.9 1617.8v53.0M1076.9 1633.3h53.0M1103.4 1606.8v53.0M1120.6 1633.3h53.0M1147.1 1606.8v53.0M952.2 1696.2h53.0M978.7 1669.7v53.0M991.5 1692.3h53.0M1018.0 1665.8v53.0M927.8 1725.7h53.0M954.3 1699.2v53.0M822.5 1662.2h53.0M849.0 1635.7v53.0M850.0 1669.6h53.0M876.5 1643.1v53.0M702.9 1720.0h53.0M729.4 1693.5v53.0M806.0 1747.5h53.0M832.5 1721.0v53.0M850.0 1747.5h53.0M876.5 1721.0v53.0M654.5 1770.0h53.0M681.0 1743.5v53.0M752.1 1783.0h53.0M778.6 1756.5v53.0M791.4 1784.9h53.0M817.9 1758.4v53.0M629.7 1808.5h53.0M656.2 1782.0v53.0M804.0 1816.4h53.0M830.5 1789.9v53.0M750.1 1836.1h53.0M776.6 1809.6v53.0M776.5 1835.3h53.0M803.0 1808.8v53.0M718.2 1872.3h53.0M744.7 1845.8v53.0M750.1 1875.4h53.0M776.6 1848.9v53.0M684.0 1892.3h53.0M710.5 1865.8v53.0M732.0 1903.7h53.0M758.5 1877.2v53.0M660.9 1917.0h53.0M687.4 1890.5v53.0M687.9 1932.5h53.0M714.4 1906.0v53.0M630.1 1948.2h53.0M656.6 1921.7v53.0M532.5 1946.0h53.0M559.0 1919.5v53.0M564.8 1976.5h53.0M591.3 1950.0v53.0M674.2 1969.8h53.0M700.7 1943.3v53.0M650.5 1987.5h53.0M677.0 1961.0v53.0M621.0 1983.6h53.0M647.5 1957.1v53.0M571.1 2039.0h53.0M597.6 2012.5v53.0M395.8 2047.0h53.0M422.3 2020.5v53.0M386.0 2110.0h53.0M412.5 2083.5v53.0M414.3 2110.0h53.0M440.8 2083.5v53.0M441.0 2110.0h53.0M467.5 2083.5v53.0M468.6 2110.0h53.0M495.1 2083.5v53.0M409.6 2137.5h53.0M436.1 2111.0v53.0M435.1 2171.8h53.0M461.6 2145.3v53.0M372.2 2180.8h53.0M398.7 2154.3v53.0M434.4 2247.7h53.0M460.9 2221.2v53.0M352.5 2211.5h53.0M379.0 2185.0v53.0M953.5 1233.3h53.0M980.0 1206.8v53.0" stroke="#bb16f8" stroke-width="8.3" fill="none"/>
<g fill="#43308f" stroke="#4f8bd9" stroke-width="3.7">
<rect x="349.9" y="1049.5" width="40.9" height="40.9"/>
<rect x="681.1" y="1320.5" width="40.9" height="40.9"/>
<rect x="271.2" y="2227.2" width="40.9" height="40.9"/>
</g>
<g fill="#1b9fe0" stroke="#25357b" stroke-width="3.7">
<rect x="224.0" y="2602.1" width="40.9" height="40.9"/>
<rect x="226.8" y="2533.4" width="40.9" height="40.9"/>
<rect x="233.9" y="2525.5" width="40.9" height="40.9"/>
<rect x="230.0" y="2515.7" width="40.9" height="40.9"/>
<rect x="239.8" y="2477.5" width="40.9" height="40.9"/>
<rect x="235.9" y="2446.8" width="40.9" height="40.9"/>
<rect x="237.4" y="2418.1" width="40.9" height="40.9"/>
<rect x="247.2" y="2350.4" width="40.9" height="40.9"/>
</g>
<g fill="#7fd37a" stroke="#25357b" stroke-width="2.95">
<path d="M803.7 932.6L833.2 882.1H774.2Z"/>
</g>
<g fill="#eda703" stroke="#25357b" stroke-width="2.95">
<path d="M847.8 854.1L877.3 803.6H818.3Z"/>
</g>
<g fill="#7fd37a" stroke="#25357b" stroke-width="2.95">
<path d="M1012.6 771.3L962.1 741.8V800.8Z"/>
</g>
<g fill="#eda703" stroke="#25357b" stroke-width="2.95">
<path d="M924.8 732.6L874.2 703.1V762.1Z"/>
</g>
<line x1="332.7" y1="889" x2="1571" y2="596" stroke="#000" stroke-width="5.5"/>
<polygon points="967.4,732.0 976.1,745.8 993.6,745.8 984.9,759.5 993.6,773.2 976.1,773.2 967.4,787.0 958.7,773.2 941.2,773.2 949.9,759.5 941.2,745.8 958.7,745.8" fill="#b913f7" stroke="#25357b" stroke-width="3"/>
<polygon points="772.5,728.8 781.9,757.8 812.4,757.8 787.8,775.8 797.2,804.8 772.5,786.8 747.8,804.8 757.2,775.8 732.6,757.8 763.1,757.8" fill="#ff0000" stroke="#25357b" stroke-width="2.8"/>
<polygon points="813.1,728.8 822.5,757.8 853.0,757.8 828.4,775.8 837.8,804.8 813.1,786.8 788.4,804.8 797.8,775.8 773.2,757.8 803.7,757.8" fill="#0000ff" stroke="#25357b" stroke-width="2.8"/>
<g font-size="72" fill="#45339a">
<text x="416" y="1064.5">24</text><text x="750" y="1346.5">16</text><text x="335" y="2243">20</text></g>
<g font-size="64" fill="#000">
<text x="562.5" y="364" textLength="187" lengthAdjust="spacingAndGlyphs">Low Ti</text>
<text x="1032" y="364" textLength="414" lengthAdjust="spacingAndGlyphs">Intermediate Ti</text>
<text x="1652" y="364" textLength="200" lengthAdjust="spacingAndGlyphs">High Ti</text>
<text x="262" y="815.5" font-size="64.5" textLength="304" lengthAdjust="spacingAndGlyphs">Mixing line</text>
</g>
<text transform="translate(570.0 814.1) scale(1.72 1.45)" font-size="56" fill="#000">→</text>
<line x1="364.4" x2="364.4" y1="2955" y2="52.5" stroke="#000" stroke-opacity="0.6" stroke-width="3.3" stroke-dasharray="6.5 14.146"/>
<line x1="949.8" x2="949.8" y1="2955" y2="52.5" stroke="#000" stroke-opacity="0.6" stroke-width="3.3" stroke-dasharray="6.5 14.146"/>
<line x1="1535.3" x2="1535.3" y1="2955" y2="52.5" stroke="#000" stroke-opacity="0.6" stroke-width="3.3" stroke-dasharray="6.5 14.146"/>
<rect x="895.5" y="1956.5" width="1037.5" height="976.5" fill="#fff" stroke="#262626" stroke-width="5.5"/>
<g font-size="40" fill="#000">
<text x="1087" y="2004.5">LP Data</text>
<text x="1087" y="2056.4">LP Data: WPI-the western Procellarum portion</text>
<text x="1087" y="2108.1">LP Data: WPI-the Imbrium portion</text>
<text x="1087" y="2159.2">Apollo 11</text>
<text x="1087" y="2210.7">Apollo 12</text>
<text x="1087" y="2263.3">Apollo 14</text>
<text x="1087" y="2315.3">Apollo 15</text>
<text x="1087" y="2365.8">Apollo 16</text>
<text x="1087" y="2417.4">Apollo 17</text>
<text x="1087" y="2469.1">Luna 16, 20, &amp; 24</text>
<text x="1087" y="2520.3">Lunar Meteorites</text>
<text x="1087" y="2572.8">CE-3 LS1</text>
<text x="1087" y="2624.8">CE-3 LS2</text>
<text x="1087" y="2676.8">CE-3 LS1<tspan font-size="30" dy="16.5" dx="3.5">mean</tspan></text>
<text x="1087" y="2743.1">CE-3 LS2</text>
<text x="1087" y="2794.3">CE-5</text>
<text x="1087" y="2847.4">CE-3 LS1<tspan font-size="30" dy="16.5" dx="3.5">mean</tspan><tspan dy="-16.5" dx="17">(this work)</tspan></text>
<text x="1087" y="2913.6">CE-3 LS2 (this work)</text>
</g>
<circle cx="994.3" cy="1990.7" r="15.6" fill="#fff" stroke="#c6a8a0" stroke-width="5.9"/>
<circle cx="994.3" cy="2042.6" r="15.6" fill="#fff" stroke="#234558" stroke-width="5.9"/>
<circle cx="994.3" cy="2094.3" r="15.6" fill="#fff" stroke="#4f8bd9" stroke-width="5.9"/>
<g fill="#70c258" stroke="#25357b" stroke-width="3.4">
<rect x="978.5" y="2129.7" width="31.5" height="31.5"/>
</g>
<g fill="#fccc60" stroke="#25357b" stroke-width="3.4">
<path d="M994.3 2172.4L1013.8 2196.9L994.3 2221.4L974.8 2196.9Z"/>
</g>
<g fill="#70c258" stroke="#25357b" stroke-width="3.4" stroke-linejoin="miter">
<path d="M994.3 2224.5L1017.3 2261.5H971.3Z"/>
</g>
<g fill="#8e90d6" stroke="#25357b" stroke-width="3.4" stroke-linejoin="miter">
<path d="M994.3 2276.5L1017.3 2313.5H971.3Z"/>
</g>
<path d="M973.3 2352.0h42M994.3 2331.0v42" stroke="#f08560" stroke-width="9" fill="none"/>
<path d="M973.3 2403.6h42M994.3 2382.6v42" stroke="#bb16f8" stroke-width="9" fill="none"/>
<g fill="#43308f" stroke="#4f8bd9" stroke-width="3.6">
<rect x="978.5" y="2439.6" width="31.5" height="31.5"/>
</g>
<g fill="#1b9fe0" stroke="#25357b" stroke-width="3.4">
<rect x="978.5" y="2490.8" width="31.5" height="31.5"/>
</g>
<g fill="#7fd37a" stroke="#25357b" stroke-width="3.4">
<path d="M994.3 2584.4L1017.3 2545.4H971.3Z"/>
</g>
<g fill="#eda703" stroke="#25357b" stroke-width="3.4">
<path d="M994.3 2636.4L1017.3 2597.4H971.3Z"/>
</g>
<g fill="#7fd37a" stroke="#25357b" stroke-width="3.4">
<path d="M1020.1 2669.5L981.1 2647.0V2692.0Z"/>
</g>
<g fill="#eda703" stroke="#25357b" stroke-width="3.4">
<path d="M1020.1 2728.8L981.1 2706.3V2751.3Z"/>
</g>
<polygon points="994.3,2762.1 1000.1,2771.3 1011.8,2771.3 1006.0,2780.5 1011.8,2789.7 1000.1,2789.7 994.3,2798.9 988.5,2789.7 976.8,2789.7 982.6,2780.5 976.8,2771.3 988.5,2771.3" fill="#b913f7" stroke="#25357b" stroke-width="3.4"/>
<polygon points="994.3,2820.3 998.6,2833.4 1012.4,2833.4 1001.2,2841.5 1005.5,2854.7 994.3,2846.6 983.1,2854.7 987.4,2841.5 976.2,2833.4 990.0,2833.4" fill="#ff0000" stroke="#25357b" stroke-width="3.8"/>
<polygon points="994.3,2879.0 998.6,2892.1 1012.4,2892.1 1001.2,2900.2 1005.5,2913.4 994.3,2905.3 983.1,2913.4 987.4,2900.2 976.2,2892.1 990.0,2892.1" fill="#0000ff" stroke="#25357b" stroke-width="3.8"/>
</svg>
</body></html>
